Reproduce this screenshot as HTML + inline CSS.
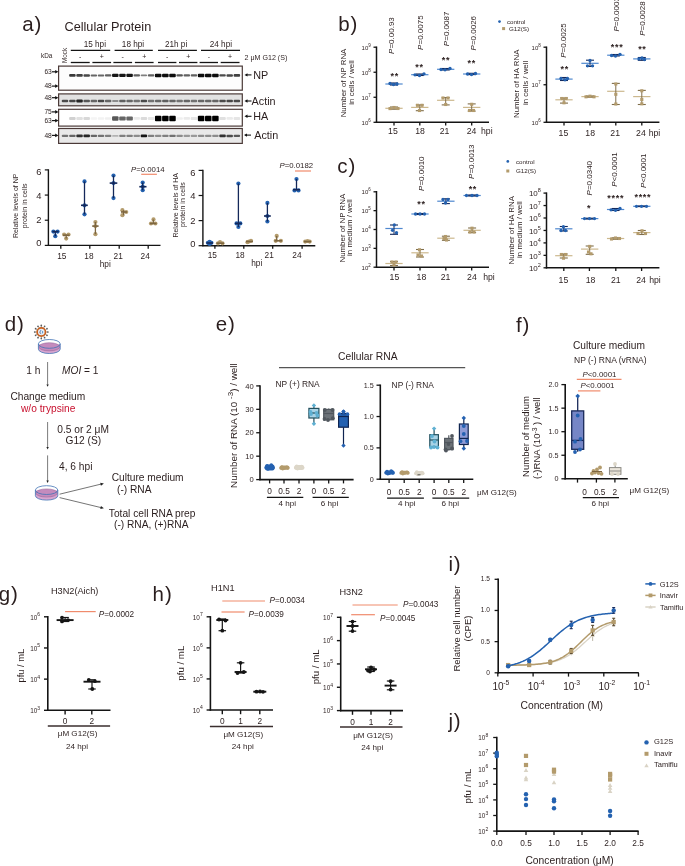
<!DOCTYPE html>
<html><head><meta charset="utf-8"><style>
html,body{margin:0;padding:0;background:#fff;}
svg{display:block;font-family:"Liberation Sans", sans-serif;will-change:transform;}
</style></head><body>
<svg width="685" height="866" viewBox="0 0 685 866" fill="#2a1e1e">
<text x="22.3" y="31.2" font-size="20.5" letter-spacing="0.9">a)</text>
<text x="64.5" y="31" font-size="12.7">Cellular Protein</text>
<text x="41" y="57.86" font-size="6.4">kDa</text>
<text transform="translate(65.2 55.5) rotate(-90)" x="0" y="2.27" font-size="6.3" text-anchor="middle">Mock</text>
<line x1="70.8" y1="50.4" x2="110.2" y2="50.4" stroke="#141414" stroke-width="1.3"/>
<text x="94.8" y="46.75" font-size="8.2" text-anchor="middle">15 hpi</text>
<line x1="114.6" y1="50.4" x2="152.8" y2="50.4" stroke="#141414" stroke-width="1.3"/>
<text x="133" y="46.75" font-size="8.2" text-anchor="middle">18 hpi</text>
<line x1="158" y1="50.4" x2="196.9" y2="50.4" stroke="#141414" stroke-width="1.3"/>
<text x="176.1" y="46.75" font-size="8.2" text-anchor="middle">21h pi</text>
<line x1="201" y1="50.4" x2="240" y2="50.4" stroke="#141414" stroke-width="1.3"/>
<text x="220.9" y="46.75" font-size="8.2" text-anchor="middle">24 hpi</text>
<line x1="70.8" y1="62.5" x2="89.7" y2="62.5" stroke="#141414" stroke-width="1.3"/>
<text x="80.25" y="59.42" font-size="7" text-anchor="middle">-</text>
<line x1="92.4" y1="62.5" x2="111.1" y2="62.5" stroke="#141414" stroke-width="1.3"/>
<text x="101.75" y="59.42" font-size="7" text-anchor="middle">+</text>
<line x1="113.4" y1="62.5" x2="132.1" y2="62.5" stroke="#141414" stroke-width="1.3"/>
<text x="122.75" y="59.42" font-size="7" text-anchor="middle">-</text>
<line x1="134.9" y1="62.5" x2="153.6" y2="62.5" stroke="#141414" stroke-width="1.3"/>
<text x="144.25" y="59.42" font-size="7" text-anchor="middle">+</text>
<line x1="158" y1="62.5" x2="176.4" y2="62.5" stroke="#141414" stroke-width="1.3"/>
<text x="167.2" y="59.42" font-size="7" text-anchor="middle">-</text>
<line x1="179" y1="62.5" x2="197.4" y2="62.5" stroke="#141414" stroke-width="1.3"/>
<text x="188.2" y="59.42" font-size="7" text-anchor="middle">+</text>
<line x1="199.6" y1="62.5" x2="218" y2="62.5" stroke="#141414" stroke-width="1.3"/>
<text x="208.8" y="59.42" font-size="7" text-anchor="middle">-</text>
<line x1="220.7" y1="62.5" x2="239.5" y2="62.5" stroke="#141414" stroke-width="1.3"/>
<text x="230.1" y="59.42" font-size="7" text-anchor="middle">+</text>
<text x="244.6" y="59.66" font-size="7.1">2 μM G12 (S)</text>
<defs><filter id="bl" x="-20%" y="-50%" width="140%" height="200%"><feGaussianBlur stdDeviation="0.6 0.5"/></filter><filter id="bl2" x="-20%" y="-80%" width="140%" height="260%"><feGaussianBlur stdDeviation="0.5 0.6"/></filter></defs>
<rect x="58.6" y="66.1" width="183.7" height="24.1" fill="#fdfdfd"/>
<g filter="url(#bl)">
<rect x="69.15" y="74.03" width="6.5" height="2.75" rx="1" fill="rgb(56,56,56)"/>
<rect x="76.3" y="74.11" width="6.5" height="2.59" rx="1" fill="rgb(66,66,66)"/>
<rect x="83.45" y="74.15" width="6.5" height="2.51" rx="1" fill="rgb(71,71,71)"/>
<rect x="90.6" y="74.39" width="6.5" height="2.02" rx="1" fill="rgb(102,102,102)"/>
<rect x="97.75" y="74.39" width="6.5" height="2.02" rx="1" fill="rgb(102,102,102)"/>
<rect x="104.9" y="74.35" width="6.5" height="2.1" rx="1" fill="rgb(96,96,96)"/>
<rect x="112.05" y="73.74" width="6.5" height="3.31" rx="1" fill="rgb(20,20,20)"/>
<rect x="119.2" y="73.78" width="6.5" height="3.23" rx="1" fill="rgb(25,25,25)"/>
<rect x="126.35" y="73.78" width="6.5" height="3.23" rx="1" fill="rgb(25,25,25)"/>
<rect x="133.5" y="74.35" width="6.5" height="2.1" rx="1" fill="rgb(96,96,96)"/>
<rect x="140.65" y="74.59" width="6.5" height="1.61" rx="1" fill="rgb(127,127,127)"/>
<rect x="147.8" y="74.35" width="6.5" height="2.1" rx="1" fill="rgb(96,96,96)"/>
<rect x="154.95" y="73.64" width="6.5" height="3.52" rx="1" fill="rgb(7,7,7)"/>
<rect x="162.1" y="73.64" width="6.5" height="3.52" rx="1" fill="rgb(7,7,7)"/>
<rect x="169.25" y="73.64" width="6.5" height="3.52" rx="1" fill="rgb(7,7,7)"/>
<rect x="176.4" y="74.27" width="6.5" height="2.26" rx="1" fill="rgb(86,86,86)"/>
<rect x="183.55" y="74.35" width="6.5" height="2.1" rx="1" fill="rgb(96,96,96)"/>
<rect x="190.7" y="74.35" width="6.5" height="2.1" rx="1" fill="rgb(96,96,96)"/>
<rect x="197.85" y="73.64" width="6.5" height="3.52" rx="1" fill="rgb(7,7,7)"/>
<rect x="205" y="73.64" width="6.5" height="3.52" rx="1" fill="rgb(7,7,7)"/>
<rect x="212.15" y="73.64" width="6.5" height="3.52" rx="1" fill="rgb(7,7,7)"/>
<rect x="219.3" y="74.19" width="6.5" height="2.42" rx="1" fill="rgb(76,76,76)"/>
<rect x="226.45" y="74.15" width="6.5" height="2.51" rx="1" fill="rgb(71,71,71)"/>
<rect x="233.6" y="74.09" width="6.5" height="2.63" rx="1" fill="rgb(63,63,63)"/>
</g>
<rect x="58.6" y="66.1" width="183.7" height="24.1" fill="none" stroke="#4b3a38" stroke-width="1.2"/>
<rect x="58.6" y="93.9" width="183.7" height="11.9" fill="#e2e2e2"/>
<g filter="url(#bl)">
<rect x="61.75" y="99.74" width="6.5" height="2.52" rx="1" fill="rgb(76,76,76)"/>
<rect x="69.15" y="99.72" width="6.5" height="2.55" rx="1" fill="rgb(71,71,71)"/>
<rect x="76.3" y="99.62" width="6.5" height="2.76" rx="1" fill="rgb(38,38,38)"/>
<rect x="83.45" y="99.78" width="6.5" height="2.44" rx="1" fill="rgb(89,89,89)"/>
<rect x="90.6" y="99.82" width="6.5" height="2.37" rx="1" fill="rgb(102,102,102)"/>
<rect x="97.75" y="99.72" width="6.5" height="2.55" rx="1" fill="rgb(71,71,71)"/>
<rect x="104.9" y="99.82" width="6.5" height="2.37" rx="1" fill="rgb(102,102,102)"/>
<rect x="112.05" y="99.93" width="6.5" height="2.13" rx="1" fill="rgb(140,140,140)"/>
<rect x="119.2" y="99.8" width="6.5" height="2.4" rx="1" fill="rgb(96,96,96)"/>
<rect x="126.35" y="99.82" width="6.5" height="2.37" rx="1" fill="rgb(102,102,102)"/>
<rect x="133.5" y="99.86" width="6.5" height="2.29" rx="1" fill="rgb(114,114,114)"/>
<rect x="140.65" y="99.74" width="6.5" height="2.52" rx="1" fill="rgb(76,76,76)"/>
<rect x="147.8" y="99.86" width="6.5" height="2.29" rx="1" fill="rgb(114,114,114)"/>
<rect x="154.95" y="99.82" width="6.5" height="2.37" rx="1" fill="rgb(102,102,102)"/>
<rect x="162.1" y="99.8" width="6.5" height="2.4" rx="1" fill="rgb(96,96,96)"/>
<rect x="169.25" y="99.82" width="6.5" height="2.37" rx="1" fill="rgb(102,102,102)"/>
<rect x="176.4" y="99.86" width="6.5" height="2.29" rx="1" fill="rgb(114,114,114)"/>
<rect x="183.55" y="99.82" width="6.5" height="2.37" rx="1" fill="rgb(102,102,102)"/>
<rect x="190.7" y="99.86" width="6.5" height="2.29" rx="1" fill="rgb(114,114,114)"/>
<rect x="197.85" y="99.82" width="6.5" height="2.37" rx="1" fill="rgb(102,102,102)"/>
<rect x="205" y="99.82" width="6.5" height="2.37" rx="1" fill="rgb(102,102,102)"/>
<rect x="212.15" y="99.82" width="6.5" height="2.37" rx="1" fill="rgb(102,102,102)"/>
<rect x="219.3" y="99.74" width="6.5" height="2.52" rx="1" fill="rgb(76,76,76)"/>
<rect x="226.45" y="99.72" width="6.5" height="2.55" rx="1" fill="rgb(71,71,71)"/>
<rect x="233.6" y="99.74" width="6.5" height="2.52" rx="1" fill="rgb(76,76,76)"/>
</g>
<rect x="58.6" y="93.9" width="183.7" height="11.9" fill="none" stroke="#4b3a38" stroke-width="1.2"/>
<rect x="58.6" y="109.3" width="183.7" height="16.8" fill="#ffffff"/>
<g filter="url(#bl2)">
<rect x="69.15" y="116.99" width="6.5" height="3.03" rx="1" fill="rgb(209,209,209)"/>
<rect x="76.3" y="117.07" width="6.5" height="2.86" rx="1" fill="rgb(224,224,224)"/>
<rect x="83.45" y="117.03" width="6.5" height="2.94" rx="1" fill="rgb(216,216,216)"/>
<rect x="90.6" y="117.18" width="6.5" height="2.64" rx="1" fill="rgb(244,244,244)"/>
<rect x="97.75" y="117.17" width="6.5" height="2.67" rx="1" fill="rgb(242,242,242)"/>
<rect x="104.9" y="117.15" width="6.5" height="2.7" rx="1" fill="rgb(239,239,239)"/>
<rect x="112.05" y="116.34" width="6.5" height="4.32" rx="1" fill="rgb(89,89,89)"/>
<rect x="119.2" y="116.41" width="6.5" height="4.19" rx="1" fill="rgb(102,102,102)"/>
<rect x="126.35" y="116.41" width="6.5" height="4.19" rx="1" fill="rgb(102,102,102)"/>
<rect x="133.5" y="117.12" width="6.5" height="2.75" rx="1" fill="rgb(234,234,234)"/>
<rect x="140.65" y="117.04" width="6.5" height="2.92" rx="1" fill="rgb(219,219,219)"/>
<rect x="147.8" y="117.1" width="6.5" height="2.81" rx="1" fill="rgb(229,229,229)"/>
<rect x="154.95" y="115.86" width="6.5" height="5.29" rx="1" fill="rgb(0,0,0)"/>
<rect x="162.1" y="115.86" width="6.5" height="5.29" rx="1" fill="rgb(0,0,0)"/>
<rect x="169.25" y="115.86" width="6.5" height="5.29" rx="1" fill="rgb(0,0,0)"/>
<rect x="176.4" y="117.15" width="6.5" height="2.7" rx="1" fill="rgb(239,239,239)"/>
<rect x="183.55" y="117.12" width="6.5" height="2.75" rx="1" fill="rgb(234,234,234)"/>
<rect x="190.7" y="117.1" width="6.5" height="2.81" rx="1" fill="rgb(229,229,229)"/>
<rect x="197.85" y="115.86" width="6.5" height="5.29" rx="1" fill="rgb(0,0,0)"/>
<rect x="205" y="115.86" width="6.5" height="5.29" rx="1" fill="rgb(0,0,0)"/>
<rect x="212.15" y="115.86" width="6.5" height="5.29" rx="1" fill="rgb(0,0,0)"/>
<rect x="219.3" y="117.07" width="6.5" height="2.86" rx="1" fill="rgb(224,224,224)"/>
<rect x="226.45" y="117.12" width="6.5" height="2.75" rx="1" fill="rgb(234,234,234)"/>
<rect x="233.6" y="117.1" width="6.5" height="2.81" rx="1" fill="rgb(229,229,229)"/>
</g>
<rect x="58.6" y="109.3" width="183.7" height="16.8" fill="none" stroke="#4b3a38" stroke-width="1.2"/>
<rect x="58.6" y="128.5" width="183.7" height="14.9" fill="#e9e9e9"/>
<g filter="url(#bl)">
<rect x="61.75" y="134.76" width="6.5" height="2.29" rx="1" fill="rgb(114,114,114)"/>
<rect x="69.15" y="134.72" width="6.5" height="2.37" rx="1" fill="rgb(102,102,102)"/>
<rect x="76.3" y="134.56" width="6.5" height="2.68" rx="1" fill="rgb(50,50,50)"/>
<rect x="83.45" y="134.52" width="6.5" height="2.76" rx="1" fill="rgb(38,38,38)"/>
<rect x="90.6" y="134.72" width="6.5" height="2.37" rx="1" fill="rgb(102,102,102)"/>
<rect x="97.75" y="134.76" width="6.5" height="2.29" rx="1" fill="rgb(114,114,114)"/>
<rect x="104.9" y="134.8" width="6.5" height="2.21" rx="1" fill="rgb(127,127,127)"/>
<rect x="112.05" y="134.95" width="6.5" height="1.9" rx="1" fill="rgb(178,178,178)"/>
<rect x="119.2" y="134.8" width="6.5" height="2.21" rx="1" fill="rgb(127,127,127)"/>
<rect x="126.35" y="134.8" width="6.5" height="2.21" rx="1" fill="rgb(127,127,127)"/>
<rect x="133.5" y="134.83" width="6.5" height="2.13" rx="1" fill="rgb(140,140,140)"/>
<rect x="140.65" y="134.48" width="6.5" height="2.83" rx="1" fill="rgb(25,25,25)"/>
<rect x="147.8" y="134.8" width="6.5" height="2.21" rx="1" fill="rgb(127,127,127)"/>
<rect x="154.95" y="134.83" width="6.5" height="2.13" rx="1" fill="rgb(140,140,140)"/>
<rect x="162.1" y="134.8" width="6.5" height="2.21" rx="1" fill="rgb(127,127,127)"/>
<rect x="169.25" y="134.76" width="6.5" height="2.29" rx="1" fill="rgb(114,114,114)"/>
<rect x="176.4" y="134.83" width="6.5" height="2.13" rx="1" fill="rgb(140,140,140)"/>
<rect x="183.55" y="134.87" width="6.5" height="2.05" rx="1" fill="rgb(153,153,153)"/>
<rect x="190.7" y="134.87" width="6.5" height="2.05" rx="1" fill="rgb(153,153,153)"/>
<rect x="197.85" y="134.83" width="6.5" height="2.13" rx="1" fill="rgb(140,140,140)"/>
<rect x="205" y="134.83" width="6.5" height="2.13" rx="1" fill="rgb(140,140,140)"/>
<rect x="212.15" y="134.83" width="6.5" height="2.13" rx="1" fill="rgb(140,140,140)"/>
<rect x="219.3" y="134.56" width="6.5" height="2.68" rx="1" fill="rgb(50,50,50)"/>
<rect x="226.45" y="134.64" width="6.5" height="2.52" rx="1" fill="rgb(76,76,76)"/>
<rect x="233.6" y="134.68" width="6.5" height="2.44" rx="1" fill="rgb(89,89,89)"/>
</g>
<rect x="58.6" y="128.5" width="183.7" height="14.9" fill="none" stroke="#4b3a38" stroke-width="1.2"/>
<line x1="51.8" y1="71.8" x2="56.5" y2="71.8" stroke="#141414" stroke-width="1.2"/>
<path d="M58.4 71.8 L55.2 70 L55.2 73.6 Z" stroke="none" stroke-width="1" fill="#141414"/>
<text x="51.8" y="74.18" font-size="6.6" text-anchor="end">63</text>
<line x1="51.8" y1="86.1" x2="56.5" y2="86.1" stroke="#141414" stroke-width="1.2"/>
<path d="M58.4 86.1 L55.2 84.3 L55.2 87.9 Z" stroke="none" stroke-width="1" fill="#141414"/>
<text x="51.8" y="88.48" font-size="6.6" text-anchor="end">48</text>
<line x1="51.8" y1="97.7" x2="56.5" y2="97.7" stroke="#141414" stroke-width="1.2"/>
<path d="M58.4 97.7 L55.2 95.9 L55.2 99.5 Z" stroke="none" stroke-width="1" fill="#141414"/>
<text x="51.8" y="100.08" font-size="6.6" text-anchor="end">48</text>
<line x1="51.8" y1="111.9" x2="56.5" y2="111.9" stroke="#141414" stroke-width="1.2"/>
<path d="M58.4 111.9 L55.2 110.1 L55.2 113.7 Z" stroke="none" stroke-width="1" fill="#141414"/>
<text x="51.8" y="114.28" font-size="6.6" text-anchor="end">75</text>
<line x1="51.8" y1="120.6" x2="56.5" y2="120.6" stroke="#141414" stroke-width="1.2"/>
<path d="M58.4 120.6 L55.2 118.8 L55.2 122.4 Z" stroke="none" stroke-width="1" fill="#141414"/>
<text x="51.8" y="122.98" font-size="6.6" text-anchor="end">63</text>
<line x1="51.8" y1="135.4" x2="56.5" y2="135.4" stroke="#141414" stroke-width="1.2"/>
<path d="M58.4 135.4 L55.2 133.6 L55.2 137.2 Z" stroke="none" stroke-width="1" fill="#141414"/>
<text x="51.8" y="137.78" font-size="6.6" text-anchor="end">48</text>
<line x1="246" y1="74.9" x2="251.5" y2="74.9" stroke="#141414" stroke-width="1.1"/>
<path d="M244.5 74.9 L247.5 73.2 L247.5 76.6 Z" stroke="none" stroke-width="1" fill="#141414"/>
<text x="253.2" y="78.79" font-size="10.8">NP</text>
<line x1="246" y1="101" x2="251.5" y2="101" stroke="#141414" stroke-width="1.1"/>
<path d="M244.5 101 L247.5 99.3 L247.5 102.7 Z" stroke="none" stroke-width="1" fill="#141414"/>
<text x="251.6" y="104.89" font-size="10.8">Actin</text>
<line x1="246" y1="116.3" x2="251.5" y2="116.3" stroke="#141414" stroke-width="1.1"/>
<path d="M244.5 116.3 L247.5 114.6 L247.5 118 Z" stroke="none" stroke-width="1" fill="#141414"/>
<text x="253.2" y="120.19" font-size="10.8">HA</text>
<line x1="245.5" y1="135.1" x2="251" y2="135.1" stroke="#141414" stroke-width="1.1"/>
<path d="M244 135.1 L247 133.4 L247 136.8 Z" stroke="none" stroke-width="1" fill="#141414"/>
<text x="254.2" y="138.99" font-size="10.8">Actin</text>
<line x1="48.4" y1="169.3" x2="48.4" y2="246" stroke="#141414" stroke-width="1.4"/>
<line x1="47.8" y1="245.4" x2="160.5" y2="245.4" stroke="#141414" stroke-width="1.4"/>
<line x1="44.8" y1="169.9" x2="48.4" y2="169.9" stroke="#141414" stroke-width="1.2"/>
<text x="41.4" y="174.68" font-size="9.4" text-anchor="end">6</text>
<line x1="44.8" y1="195.07" x2="48.4" y2="195.07" stroke="#141414" stroke-width="1.2"/>
<text x="41.4" y="198.78" font-size="9.4" text-anchor="end">4</text>
<line x1="44.8" y1="220.23" x2="48.4" y2="220.23" stroke="#141414" stroke-width="1.2"/>
<text x="41.4" y="223.28" font-size="9.4" text-anchor="end">2</text>
<line x1="44.8" y1="245.4" x2="48.4" y2="245.4" stroke="#141414" stroke-width="1.2"/>
<text x="41.4" y="246.38" font-size="9.4" text-anchor="end">0</text>
<line x1="60.8" y1="245.4" x2="60.8" y2="248.8" stroke="#141414" stroke-width="1.3"/>
<line x1="89.8" y1="245.4" x2="89.8" y2="248.8" stroke="#141414" stroke-width="1.3"/>
<line x1="119.2" y1="245.4" x2="119.2" y2="248.8" stroke="#141414" stroke-width="1.3"/>
<line x1="148.2" y1="245.4" x2="148.2" y2="248.8" stroke="#141414" stroke-width="1.3"/>
<text x="61.8" y="258.89" font-size="8.3" text-anchor="middle">15</text>
<text x="88.9" y="258.89" font-size="8.3" text-anchor="middle">18</text>
<text x="118.2" y="258.89" font-size="8.3" text-anchor="middle">21</text>
<text x="145.2" y="258.89" font-size="8.3" text-anchor="middle">24</text>
<text x="105.2" y="266.96" font-size="8.3" text-anchor="middle">hpi</text>
<text transform="translate(15.6 205.8) rotate(-90)" x="0" y="2.52" font-size="7" text-anchor="middle">Relative levels of NP</text>
<text transform="translate(24.1 205.8) rotate(-90)" x="0" y="2.52" font-size="7" text-anchor="middle">protein in cells</text>
<text x="147.8" y="171.91" font-size="7.8" text-anchor="middle"><tspan font-style="italic">P</tspan>=0.0014</text>
<line x1="141.2" y1="174.3" x2="156.9" y2="174.3" stroke="#f08b6c" stroke-width="1.2"/>
<circle cx="53.4" cy="231.6" r="2.1" fill="#2462b0"/>
<circle cx="57.6" cy="231.6" r="2.1" fill="#2462b0"/>
<circle cx="55.3" cy="236.2" r="2.1" fill="#2462b0"/>
<line x1="55.3" y1="231.6" x2="55.3" y2="236.2" stroke="#14285a" stroke-width="1.3"/>
<line x1="52.3" y1="231.6" x2="58.6" y2="231.6" stroke="#14285a" stroke-width="1.6"/>
<circle cx="64.1" cy="234.5" r="2.1" fill="#b39b6c"/>
<circle cx="68.5" cy="234.5" r="2.1" fill="#b39b6c"/>
<circle cx="66.2" cy="238.6" r="2.1" fill="#b39b6c"/>
<line x1="66.2" y1="234.5" x2="66.2" y2="238.6" stroke="#7d6640" stroke-width="1.3"/>
<line x1="63" y1="235.2" x2="69.6" y2="235.2" stroke="#7d6640" stroke-width="1.6"/>
<circle cx="84.5" cy="181.4" r="2.1" fill="#2462b0"/>
<circle cx="84.5" cy="214.3" r="2.1" fill="#2462b0"/>
<circle cx="84.5" cy="205.3" r="2.1" fill="#2462b0"/>
<line x1="84.5" y1="181.4" x2="84.5" y2="214.3" stroke="#14285a" stroke-width="1.3"/>
<line x1="81" y1="205.3" x2="87.8" y2="205.3" stroke="#14285a" stroke-width="1.6"/>
<circle cx="95.4" cy="222" r="2.1" fill="#b39b6c"/>
<circle cx="95.4" cy="234.2" r="2.1" fill="#b39b6c"/>
<circle cx="95.4" cy="226.1" r="2.1" fill="#b39b6c"/>
<line x1="95.4" y1="222" x2="95.4" y2="234.2" stroke="#7d6640" stroke-width="1.3"/>
<line x1="92.2" y1="226.1" x2="98.6" y2="226.1" stroke="#7d6640" stroke-width="1.6"/>
<circle cx="113.5" cy="175.5" r="2.1" fill="#2462b0"/>
<circle cx="113.5" cy="198.1" r="2.1" fill="#2462b0"/>
<circle cx="113.5" cy="183.1" r="2.1" fill="#2462b0"/>
<line x1="113.5" y1="175.5" x2="113.5" y2="198.1" stroke="#14285a" stroke-width="1.3"/>
<line x1="109.7" y1="183.1" x2="117.3" y2="183.1" stroke="#14285a" stroke-width="1.6"/>
<circle cx="122.4" cy="210.2" r="2.1" fill="#b39b6c"/>
<circle cx="126.2" cy="212" r="2.1" fill="#b39b6c"/>
<circle cx="122.4" cy="215.2" r="2.1" fill="#b39b6c"/>
<line x1="123.6" y1="210.2" x2="123.6" y2="215.2" stroke="#7d6640" stroke-width="1.3"/>
<line x1="121" y1="212" x2="127" y2="212" stroke="#7d6640" stroke-width="1.6"/>
<circle cx="142.7" cy="182.6" r="2.1" fill="#2462b0"/>
<circle cx="142.7" cy="190.2" r="2.1" fill="#2462b0"/>
<circle cx="142.7" cy="186.7" r="2.1" fill="#2462b0"/>
<line x1="142.7" y1="182.6" x2="142.7" y2="190.2" stroke="#14285a" stroke-width="1.3"/>
<line x1="139.3" y1="186.7" x2="146.5" y2="186.7" stroke="#14285a" stroke-width="1.6"/>
<circle cx="153.5" cy="219.4" r="2.1" fill="#b39b6c"/>
<circle cx="151" cy="223.5" r="2.1" fill="#b39b6c"/>
<circle cx="155.4" cy="223.5" r="2.1" fill="#b39b6c"/>
<line x1="153.3" y1="219.4" x2="153.3" y2="223.5" stroke="#7d6640" stroke-width="1.3"/>
<line x1="150" y1="223.5" x2="156.5" y2="223.5" stroke="#7d6640" stroke-width="1.6"/>
<line x1="202.9" y1="169.8" x2="202.9" y2="246.3" stroke="#141414" stroke-width="1.4"/>
<line x1="202.3" y1="245.7" x2="315.3" y2="245.7" stroke="#141414" stroke-width="1.4"/>
<line x1="198.6" y1="170.4" x2="202.9" y2="170.4" stroke="#141414" stroke-width="1.2"/>
<text x="195.5" y="176.18" font-size="9.4" text-anchor="end">6</text>
<line x1="198.6" y1="195.5" x2="202.9" y2="195.5" stroke="#141414" stroke-width="1.2"/>
<text x="195.5" y="199.38" font-size="9.4" text-anchor="end">4</text>
<line x1="198.6" y1="220.6" x2="202.9" y2="220.6" stroke="#141414" stroke-width="1.2"/>
<text x="195.5" y="223.78" font-size="9.4" text-anchor="end">2</text>
<line x1="198.6" y1="245.7" x2="202.9" y2="245.7" stroke="#141414" stroke-width="1.2"/>
<text x="195.5" y="246.88" font-size="9.4" text-anchor="end">0</text>
<line x1="214.9" y1="245.7" x2="214.9" y2="248.8" stroke="#141414" stroke-width="1.3"/>
<line x1="243.8" y1="245.7" x2="243.8" y2="248.8" stroke="#141414" stroke-width="1.3"/>
<line x1="272.7" y1="245.7" x2="272.7" y2="248.8" stroke="#141414" stroke-width="1.3"/>
<line x1="302.1" y1="245.7" x2="302.1" y2="248.8" stroke="#141414" stroke-width="1.3"/>
<text x="212.3" y="257.79" font-size="8.3" text-anchor="middle">15</text>
<text x="240" y="257.79" font-size="8.3" text-anchor="middle">18</text>
<text x="269.2" y="257.79" font-size="8.3" text-anchor="middle">21</text>
<text x="296.9" y="257.79" font-size="8.3" text-anchor="middle">24</text>
<text x="256.8" y="265.76" font-size="8.3" text-anchor="middle">hpi</text>
<text transform="translate(175 205.3) rotate(-90)" x="0" y="2.52" font-size="7" text-anchor="middle">Relative levels of HA</text>
<text transform="translate(182.9 204.6) rotate(-90)" x="0" y="2.52" font-size="7" text-anchor="middle">protein in cells</text>
<text x="296.3" y="167.71" font-size="7.8" text-anchor="middle"><tspan font-style="italic">P</tspan>=0.0182</text>
<line x1="295" y1="171" x2="311" y2="171" stroke="#f08b6c" stroke-width="1.2"/>
<circle cx="207.9" cy="242.8" r="2.1" fill="#2462b0"/>
<circle cx="209.6" cy="241.8" r="2.1" fill="#2462b0"/>
<circle cx="211.4" cy="242.8" r="2.1" fill="#2462b0"/>
<circle cx="209.6" cy="244" r="2.1" fill="#2462b0"/>
<line x1="206.5" y1="243" x2="213" y2="243" stroke="#14285a" stroke-width="1.6"/>
<circle cx="218" cy="243.3" r="2.1" fill="#b39b6c"/>
<circle cx="222.5" cy="243.3" r="2.1" fill="#b39b6c"/>
<circle cx="220" cy="242" r="2.1" fill="#b39b6c"/>
<line x1="216.5" y1="243.2" x2="224" y2="243.2" stroke="#7d6640" stroke-width="1.6"/>
<circle cx="238.4" cy="183.5" r="2.1" fill="#2462b0"/>
<circle cx="238.4" cy="227" r="2.1" fill="#2462b0"/>
<circle cx="236.5" cy="223.4" r="2.1" fill="#2462b0"/>
<circle cx="240.3" cy="223.4" r="2.1" fill="#2462b0"/>
<line x1="238.4" y1="183.5" x2="238.4" y2="227" stroke="#14285a" stroke-width="1.3"/>
<line x1="235" y1="223.4" x2="241.8" y2="223.4" stroke="#14285a" stroke-width="1.6"/>
<circle cx="247.5" cy="242.2" r="2.1" fill="#b39b6c"/>
<circle cx="251" cy="240.8" r="2.1" fill="#b39b6c"/>
<circle cx="249" cy="241.5" r="2.1" fill="#b39b6c"/>
<line x1="246" y1="241.5" x2="253" y2="241.5" stroke="#7d6640" stroke-width="1.6"/>
<circle cx="267.4" cy="202.9" r="2.1" fill="#2462b0"/>
<circle cx="267.4" cy="221.5" r="2.1" fill="#2462b0"/>
<circle cx="267.4" cy="216" r="2.1" fill="#2462b0"/>
<line x1="267.4" y1="202.9" x2="267.4" y2="221.5" stroke="#14285a" stroke-width="1.3"/>
<line x1="264" y1="216" x2="270.8" y2="216" stroke="#14285a" stroke-width="1.6"/>
<circle cx="275.7" cy="240.8" r="2.1" fill="#b39b6c"/>
<circle cx="280.9" cy="240.8" r="2.1" fill="#b39b6c"/>
<circle cx="276.7" cy="235.9" r="2.1" fill="#b39b6c"/>
<line x1="276.7" y1="235.9" x2="276.7" y2="240.8" stroke="#7d6640" stroke-width="1.3"/>
<line x1="274.5" y1="240.8" x2="282" y2="240.8" stroke="#7d6640" stroke-width="1.6"/>
<circle cx="296.5" cy="179" r="2.1" fill="#2462b0"/>
<circle cx="294.5" cy="190.4" r="2.1" fill="#2462b0"/>
<circle cx="298.5" cy="190.4" r="2.1" fill="#2462b0"/>
<line x1="296.5" y1="179" x2="296.5" y2="190.4" stroke="#14285a" stroke-width="1.3"/>
<line x1="293" y1="189.7" x2="300" y2="189.7" stroke="#14285a" stroke-width="1.6"/>
<circle cx="305.2" cy="241.6" r="2.1" fill="#b39b6c"/>
<circle cx="309.7" cy="241.6" r="2.1" fill="#b39b6c"/>
<circle cx="307.5" cy="241" r="2.1" fill="#b39b6c"/>
<line x1="304" y1="241.6" x2="311" y2="241.6" stroke="#7d6640" stroke-width="1.6"/>
<text x="338.3" y="31.3" font-size="20.5" letter-spacing="0.9">b)</text>
<text x="337.3" y="172.8" font-size="20.5" letter-spacing="0.9">c)</text>
<line x1="376.5" y1="46.5" x2="376.5" y2="123" stroke="#141414" stroke-width="1.5"/>
<line x1="375.8" y1="122.3" x2="489" y2="122.3" stroke="#141414" stroke-width="1.5"/>
<line x1="373.5" y1="47.21" x2="376.5" y2="47.21" stroke="#141414" stroke-width="1.3"/>
<text x="368.3" y="49.77" font-size="6" text-anchor="end">10</text>
<text x="368.3" y="46.77" font-size="4.5">9</text>
<line x1="373.5" y1="72.24" x2="376.5" y2="72.24" stroke="#141414" stroke-width="1.3"/>
<text x="368.3" y="74.8" font-size="6" text-anchor="end">10</text>
<text x="368.3" y="71.8" font-size="4.5">8</text>
<line x1="373.5" y1="97.27" x2="376.5" y2="97.27" stroke="#141414" stroke-width="1.3"/>
<text x="368.3" y="99.83" font-size="6" text-anchor="end">10</text>
<text x="368.3" y="96.83" font-size="4.5">7</text>
<line x1="373.5" y1="122.3" x2="376.5" y2="122.3" stroke="#141414" stroke-width="1.3"/>
<text x="368.3" y="124.86" font-size="6" text-anchor="end">10</text>
<text x="368.3" y="121.86" font-size="4.5">6</text>
<line x1="394" y1="122.3" x2="394" y2="125.5" stroke="#141414" stroke-width="1.3"/>
<line x1="419.8" y1="122.3" x2="419.8" y2="125.5" stroke="#141414" stroke-width="1.3"/>
<line x1="445.7" y1="122.3" x2="445.7" y2="125.5" stroke="#141414" stroke-width="1.3"/>
<line x1="471.7" y1="122.3" x2="471.7" y2="125.5" stroke="#141414" stroke-width="1.3"/>
<text transform="translate(343.5 83) rotate(-90)" x="0" y="2.84" font-size="7.9" text-anchor="middle">Number of NP RNA</text>
<text transform="translate(350.8 82.5) rotate(-90)" x="0" y="2.84" font-size="7.9" text-anchor="middle">in cells / well</text>
<text x="392.9" y="134.03" font-size="8.7" text-anchor="middle">15</text>
<text x="420" y="134.03" font-size="8.7" text-anchor="middle">18</text>
<text x="444.5" y="134.03" font-size="8.7" text-anchor="middle">21</text>
<text x="471.5" y="134.03" font-size="8.7" text-anchor="middle">24</text>
<text x="486.8" y="134.03" font-size="8.7" text-anchor="middle">hpi</text>
<text transform="translate(391.1 35.55) rotate(-90)" x="0" y="2.88" font-size="8" text-anchor="middle"><tspan font-style="italic">P</tspan>=0.00.93</text>
<text transform="translate(420 32.65) rotate(-90)" x="0" y="2.88" font-size="8" text-anchor="middle"><tspan font-style="italic">P</tspan>=0.0075</text>
<text transform="translate(445.9 28.9) rotate(-90)" x="0" y="2.88" font-size="8" text-anchor="middle"><tspan font-style="italic">P</tspan>=0.0087</text>
<text transform="translate(473.4 33.2) rotate(-90)" x="0" y="2.88" font-size="8" text-anchor="middle"><tspan font-style="italic">P</tspan>=0.0026</text>
<text x="394.65" y="78.58" font-size="9" font-weight="bold" letter-spacing="0.7" text-anchor="middle">**</text>
<text x="419.55" y="69.78" font-size="9" font-weight="bold" letter-spacing="0.7" text-anchor="middle">**</text>
<text x="446.05" y="62.58" font-size="9" font-weight="bold" letter-spacing="0.7" text-anchor="middle">**</text>
<text x="471.75" y="66.48" font-size="9" font-weight="bold" letter-spacing="0.7" text-anchor="middle">**</text>
<line x1="385.35" y1="84" x2="402.65" y2="84" stroke="#4f88cf" stroke-width="1.2"/>
<line x1="394" y1="83" x2="394" y2="85" stroke="#14285a" stroke-width="1"/>
<line x1="390" y1="83" x2="398" y2="83" stroke="#14285a" stroke-width="1.1"/>
<line x1="390" y1="85" x2="398" y2="85" stroke="#14285a" stroke-width="1.1"/>
<circle cx="390" cy="83.5" r="1.65" fill="#2462b0"/>
<circle cx="393.5" cy="84.5" r="1.65" fill="#2462b0"/>
<circle cx="397" cy="84" r="1.65" fill="#2462b0"/>
<line x1="411.15" y1="74.7" x2="428.45" y2="74.7" stroke="#4f88cf" stroke-width="1.2"/>
<line x1="419.8" y1="74" x2="419.8" y2="75.5" stroke="#14285a" stroke-width="1"/>
<line x1="415.8" y1="74" x2="423.8" y2="74" stroke="#14285a" stroke-width="1.1"/>
<line x1="415.8" y1="75.5" x2="423.8" y2="75.5" stroke="#14285a" stroke-width="1.1"/>
<circle cx="415" cy="74.8" r="1.65" fill="#2462b0"/>
<circle cx="419.5" cy="75.5" r="1.65" fill="#2462b0"/>
<circle cx="424" cy="73.8" r="1.65" fill="#2462b0"/>
<line x1="437.05" y1="69.3" x2="454.35" y2="69.3" stroke="#4f88cf" stroke-width="1.2"/>
<line x1="445.7" y1="68.5" x2="445.7" y2="70" stroke="#14285a" stroke-width="1"/>
<line x1="441.7" y1="68.5" x2="449.7" y2="68.5" stroke="#14285a" stroke-width="1.1"/>
<line x1="441.7" y1="70" x2="449.7" y2="70" stroke="#14285a" stroke-width="1.1"/>
<circle cx="441" cy="69.5" r="1.65" fill="#2462b0"/>
<circle cx="445" cy="69.8" r="1.65" fill="#2462b0"/>
<circle cx="450" cy="68.5" r="1.65" fill="#2462b0"/>
<line x1="463.05" y1="74" x2="480.35" y2="74" stroke="#4f88cf" stroke-width="1.2"/>
<line x1="471.7" y1="73.3" x2="471.7" y2="74.6" stroke="#14285a" stroke-width="1"/>
<line x1="467.7" y1="73.3" x2="475.7" y2="73.3" stroke="#14285a" stroke-width="1.1"/>
<line x1="467.7" y1="74.6" x2="475.7" y2="74.6" stroke="#14285a" stroke-width="1.1"/>
<circle cx="467.5" cy="74" r="1.65" fill="#2462b0"/>
<circle cx="471.5" cy="74.6" r="1.65" fill="#2462b0"/>
<circle cx="475.5" cy="73.5" r="1.65" fill="#2462b0"/>
<line x1="385.35" y1="108.3" x2="402.65" y2="108.3" stroke="#ccb88e" stroke-width="1.2"/>
<line x1="394" y1="107" x2="394" y2="109.2" stroke="#7f6d4a" stroke-width="1"/>
<line x1="390" y1="107" x2="398" y2="107" stroke="#7f6d4a" stroke-width="1.1"/>
<line x1="390" y1="109.2" x2="398" y2="109.2" stroke="#7f6d4a" stroke-width="1.1"/>
<rect x="388.45" y="107.05" width="3.1" height="3.1" fill="#b39b6c"/>
<rect x="392.45" y="105.95" width="3.1" height="3.1" fill="#b39b6c"/>
<rect x="396.45" y="106.95" width="3.1" height="3.1" fill="#b39b6c"/>
<line x1="411.15" y1="107.4" x2="428.45" y2="107.4" stroke="#ccb88e" stroke-width="1.2"/>
<line x1="419.8" y1="104.9" x2="419.8" y2="110.7" stroke="#7f6d4a" stroke-width="1"/>
<line x1="415.8" y1="104.9" x2="423.8" y2="104.9" stroke="#7f6d4a" stroke-width="1.1"/>
<line x1="415.8" y1="110.7" x2="423.8" y2="110.7" stroke="#7f6d4a" stroke-width="1.1"/>
<rect x="415.95" y="103.75" width="3.1" height="3.1" fill="#b39b6c"/>
<rect x="420.45" y="103.75" width="3.1" height="3.1" fill="#b39b6c"/>
<rect x="417.95" y="108.95" width="3.1" height="3.1" fill="#b39b6c"/>
<line x1="437.05" y1="100.3" x2="454.35" y2="100.3" stroke="#ccb88e" stroke-width="1.2"/>
<line x1="445.7" y1="97.6" x2="445.7" y2="104.9" stroke="#7f6d4a" stroke-width="1"/>
<line x1="441.7" y1="97.6" x2="449.7" y2="97.6" stroke="#7f6d4a" stroke-width="1.1"/>
<line x1="441.7" y1="104.9" x2="449.7" y2="104.9" stroke="#7f6d4a" stroke-width="1.1"/>
<rect x="441.45" y="96.45" width="3.1" height="3.1" fill="#b39b6c"/>
<rect x="446.45" y="96.45" width="3.1" height="3.1" fill="#b39b6c"/>
<rect x="444.15" y="102.95" width="3.1" height="3.1" fill="#b39b6c"/>
<line x1="463.05" y1="107.4" x2="480.35" y2="107.4" stroke="#ccb88e" stroke-width="1.2"/>
<line x1="471.7" y1="103.9" x2="471.7" y2="111.1" stroke="#7f6d4a" stroke-width="1"/>
<line x1="467.7" y1="103.9" x2="475.7" y2="103.9" stroke="#7f6d4a" stroke-width="1.1"/>
<line x1="467.7" y1="111.1" x2="475.7" y2="111.1" stroke="#7f6d4a" stroke-width="1.1"/>
<rect x="470.15" y="102.75" width="3.1" height="3.1" fill="#b39b6c"/>
<rect x="467.95" y="108.95" width="3.1" height="3.1" fill="#b39b6c"/>
<rect x="471.95" y="108.95" width="3.1" height="3.1" fill="#b39b6c"/>
<circle cx="499.5" cy="21.6" r="1.35" fill="#2462b0"/>
<rect x="502.1" y="27.1" width="3" height="3" fill="#b39b6c"/>
<text x="506.9" y="24.13" font-size="6.2">control</text>
<text x="509" y="30.83" font-size="6.2">G12(S)</text>
<line x1="546.5" y1="46.5" x2="546.5" y2="123" stroke="#141414" stroke-width="1.5"/>
<line x1="545.8" y1="122.3" x2="659.4" y2="122.3" stroke="#141414" stroke-width="1.5"/>
<line x1="543.5" y1="47.2" x2="546.5" y2="47.2" stroke="#141414" stroke-width="1.3"/>
<text x="538.3" y="49.76" font-size="6" text-anchor="end">10</text>
<text x="538.3" y="46.76" font-size="4.5">8</text>
<line x1="543.5" y1="84.75" x2="546.5" y2="84.75" stroke="#141414" stroke-width="1.3"/>
<text x="538.3" y="87.31" font-size="6" text-anchor="end">10</text>
<text x="538.3" y="84.31" font-size="4.5">7</text>
<line x1="543.5" y1="122.3" x2="546.5" y2="122.3" stroke="#141414" stroke-width="1.3"/>
<text x="538.3" y="124.86" font-size="6" text-anchor="end">10</text>
<text x="538.3" y="121.86" font-size="4.5">6</text>
<line x1="564" y1="122.3" x2="564" y2="125.5" stroke="#141414" stroke-width="1.3"/>
<line x1="590" y1="122.3" x2="590" y2="125.5" stroke="#141414" stroke-width="1.3"/>
<line x1="615.8" y1="122.3" x2="615.8" y2="125.5" stroke="#141414" stroke-width="1.3"/>
<line x1="641.8" y1="122.3" x2="641.8" y2="125.5" stroke="#141414" stroke-width="1.3"/>
<text transform="translate(516.1 83.8) rotate(-90)" x="0" y="2.84" font-size="7.9" text-anchor="middle">Number of HA RNA</text>
<text transform="translate(524.9 82.9) rotate(-90)" x="0" y="2.84" font-size="7.9" text-anchor="middle">in cells / well</text>
<text x="563.4" y="135.53" font-size="8.7" text-anchor="middle">15</text>
<text x="590.2" y="135.53" font-size="8.7" text-anchor="middle">18</text>
<text x="615.2" y="135.53" font-size="8.7" text-anchor="middle">21</text>
<text x="640.9" y="135.53" font-size="8.7" text-anchor="middle">24</text>
<text x="654.5" y="135.53" font-size="8.7" text-anchor="middle">hpi</text>
<text transform="translate(563.4 40.6) rotate(-90)" x="0" y="2.88" font-size="8" text-anchor="middle"><tspan font-style="italic">P</tspan>=0.0025</text>
<text transform="translate(616 14.35) rotate(-90)" x="0" y="2.88" font-size="8" text-anchor="middle"><tspan font-style="italic">P</tspan>=0.0003</text>
<text transform="translate(641.7 18.6) rotate(-90)" x="0" y="2.88" font-size="8" text-anchor="middle"><tspan font-style="italic">P</tspan>=0.0028</text>
<text x="564.65" y="72.48" font-size="9" font-weight="bold" letter-spacing="0.7" text-anchor="middle">**</text>
<text x="617.15" y="49.78" font-size="9" font-weight="bold" letter-spacing="0.7" text-anchor="middle">***</text>
<text x="642.35" y="52.28" font-size="9" font-weight="bold" letter-spacing="0.7" text-anchor="middle">**</text>
<line x1="555.35" y1="79.1" x2="572.65" y2="79.1" stroke="#4f88cf" stroke-width="1.2"/>
<line x1="564" y1="77.5" x2="564" y2="80.5" stroke="#14285a" stroke-width="1"/>
<line x1="560" y1="77.5" x2="568" y2="77.5" stroke="#14285a" stroke-width="1.1"/>
<line x1="560" y1="80.5" x2="568" y2="80.5" stroke="#14285a" stroke-width="1.1"/>
<circle cx="561" cy="78.5" r="1.65" fill="#2462b0"/>
<circle cx="565" cy="79.8" r="1.65" fill="#2462b0"/>
<circle cx="567.5" cy="78.5" r="1.65" fill="#2462b0"/>
<line x1="581.35" y1="63.3" x2="598.65" y2="63.3" stroke="#4f88cf" stroke-width="1.2"/>
<line x1="590" y1="60.2" x2="590" y2="66.4" stroke="#14285a" stroke-width="1"/>
<line x1="586" y1="60.2" x2="594" y2="60.2" stroke="#14285a" stroke-width="1.1"/>
<line x1="586" y1="66.4" x2="594" y2="66.4" stroke="#14285a" stroke-width="1.1"/>
<circle cx="590" cy="60.5" r="1.65" fill="#2462b0"/>
<circle cx="587.5" cy="65.8" r="1.65" fill="#2462b0"/>
<circle cx="592.5" cy="65.8" r="1.65" fill="#2462b0"/>
<line x1="607.15" y1="55.2" x2="624.45" y2="55.2" stroke="#4f88cf" stroke-width="1.2"/>
<line x1="615.8" y1="54.5" x2="615.8" y2="56" stroke="#14285a" stroke-width="1"/>
<line x1="611.8" y1="54.5" x2="619.8" y2="54.5" stroke="#14285a" stroke-width="1.1"/>
<line x1="611.8" y1="56" x2="619.8" y2="56" stroke="#14285a" stroke-width="1.1"/>
<circle cx="611.5" cy="55.5" r="1.65" fill="#2462b0"/>
<circle cx="615.5" cy="56" r="1.65" fill="#2462b0"/>
<circle cx="620" cy="54.3" r="1.65" fill="#2462b0"/>
<line x1="633.15" y1="58.9" x2="650.45" y2="58.9" stroke="#4f88cf" stroke-width="1.2"/>
<line x1="641.8" y1="57.5" x2="641.8" y2="60.3" stroke="#14285a" stroke-width="1"/>
<line x1="637.8" y1="57.5" x2="645.8" y2="57.5" stroke="#14285a" stroke-width="1.1"/>
<line x1="637.8" y1="60.3" x2="645.8" y2="60.3" stroke="#14285a" stroke-width="1.1"/>
<circle cx="639" cy="58.9" r="1.65" fill="#2462b0"/>
<circle cx="642" cy="58" r="1.65" fill="#2462b0"/>
<circle cx="644.5" cy="59.5" r="1.65" fill="#2462b0"/>
<line x1="555.35" y1="99.8" x2="572.65" y2="99.8" stroke="#ccb88e" stroke-width="1.2"/>
<line x1="564" y1="98" x2="564" y2="103.1" stroke="#7f6d4a" stroke-width="1"/>
<line x1="560" y1="98" x2="568" y2="98" stroke="#7f6d4a" stroke-width="1.1"/>
<line x1="560" y1="103.1" x2="568" y2="103.1" stroke="#7f6d4a" stroke-width="1.1"/>
<rect x="560.45" y="96.95" width="3.1" height="3.1" fill="#b39b6c"/>
<rect x="564.45" y="96.95" width="3.1" height="3.1" fill="#b39b6c"/>
<rect x="562.45" y="101.25" width="3.1" height="3.1" fill="#b39b6c"/>
<line x1="581.35" y1="96.6" x2="598.65" y2="96.6" stroke="#ccb88e" stroke-width="1.2"/>
<line x1="590" y1="96" x2="590" y2="97.2" stroke="#7f6d4a" stroke-width="1"/>
<line x1="586" y1="96" x2="594" y2="96" stroke="#7f6d4a" stroke-width="1.1"/>
<line x1="586" y1="97.2" x2="594" y2="97.2" stroke="#7f6d4a" stroke-width="1.1"/>
<rect x="584.45" y="95.25" width="3.1" height="3.1" fill="#b39b6c"/>
<rect x="588.45" y="94.65" width="3.1" height="3.1" fill="#b39b6c"/>
<rect x="592.45" y="95.25" width="3.1" height="3.1" fill="#b39b6c"/>
<line x1="607.15" y1="91.3" x2="624.45" y2="91.3" stroke="#ccb88e" stroke-width="1.2"/>
<line x1="615.8" y1="83.4" x2="615.8" y2="104.5" stroke="#7f6d4a" stroke-width="1"/>
<line x1="611.8" y1="83.4" x2="619.8" y2="83.4" stroke="#7f6d4a" stroke-width="1.1"/>
<line x1="611.8" y1="104.5" x2="619.8" y2="104.5" stroke="#7f6d4a" stroke-width="1.1"/>
<rect x="614.25" y="82.45" width="3.1" height="3.1" fill="#b39b6c"/>
<rect x="614.25" y="92.75" width="3.1" height="3.1" fill="#b39b6c"/>
<rect x="614.25" y="102.45" width="3.1" height="3.1" fill="#b39b6c"/>
<line x1="633.15" y1="96.6" x2="650.45" y2="96.6" stroke="#ccb88e" stroke-width="1.2"/>
<line x1="641.8" y1="90.4" x2="641.8" y2="104.5" stroke="#7f6d4a" stroke-width="1"/>
<line x1="637.8" y1="90.4" x2="645.8" y2="90.4" stroke="#7f6d4a" stroke-width="1.1"/>
<line x1="637.8" y1="104.5" x2="645.8" y2="104.5" stroke="#7f6d4a" stroke-width="1.1"/>
<rect x="640.25" y="89.25" width="3.1" height="3.1" fill="#b39b6c"/>
<rect x="640.25" y="97.95" width="3.1" height="3.1" fill="#b39b6c"/>
<rect x="640.25" y="102.25" width="3.1" height="3.1" fill="#b39b6c"/>
<line x1="376.5" y1="191" x2="376.5" y2="267.9" stroke="#141414" stroke-width="1.5"/>
<line x1="375.8" y1="267.2" x2="489" y2="267.2" stroke="#141414" stroke-width="1.5"/>
<line x1="373.5" y1="191.8" x2="376.5" y2="191.8" stroke="#141414" stroke-width="1.3"/>
<text x="368.3" y="194.36" font-size="6" text-anchor="end">10</text>
<text x="368.3" y="191.36" font-size="4.5">6</text>
<line x1="373.5" y1="210.65" x2="376.5" y2="210.65" stroke="#141414" stroke-width="1.3"/>
<text x="368.3" y="213.21" font-size="6" text-anchor="end">10</text>
<text x="368.3" y="210.21" font-size="4.5">5</text>
<line x1="373.5" y1="229.5" x2="376.5" y2="229.5" stroke="#141414" stroke-width="1.3"/>
<text x="368.3" y="232.06" font-size="6" text-anchor="end">10</text>
<text x="368.3" y="229.06" font-size="4.5">4</text>
<line x1="373.5" y1="248.35" x2="376.5" y2="248.35" stroke="#141414" stroke-width="1.3"/>
<text x="368.3" y="250.91" font-size="6" text-anchor="end">10</text>
<text x="368.3" y="247.91" font-size="4.5">3</text>
<line x1="373.5" y1="267.2" x2="376.5" y2="267.2" stroke="#141414" stroke-width="1.3"/>
<text x="368.3" y="269.76" font-size="6" text-anchor="end">10</text>
<text x="368.3" y="266.76" font-size="4.5">2</text>
<line x1="394" y1="267.2" x2="394" y2="270.4" stroke="#141414" stroke-width="1.3"/>
<line x1="420" y1="267.2" x2="420" y2="270.4" stroke="#141414" stroke-width="1.3"/>
<line x1="445.8" y1="267.2" x2="445.8" y2="270.4" stroke="#141414" stroke-width="1.3"/>
<line x1="471.7" y1="267.2" x2="471.7" y2="270.4" stroke="#141414" stroke-width="1.3"/>
<text transform="translate(342.6 228.2) rotate(-90)" x="0" y="2.84" font-size="7.9" text-anchor="middle">Number of NP RNA</text>
<text transform="translate(349.6 227.6) rotate(-90)" x="0" y="2.84" font-size="7.9" text-anchor="middle">in medium / well</text>
<text x="394.4" y="280.33" font-size="8.7" text-anchor="middle">15</text>
<text x="421.4" y="280.33" font-size="8.7" text-anchor="middle">18</text>
<text x="445.6" y="280.33" font-size="8.7" text-anchor="middle">21</text>
<text x="471.9" y="280.33" font-size="8.7" text-anchor="middle">24</text>
<text x="489" y="280.33" font-size="8.7" text-anchor="middle">hpi</text>
<text transform="translate(420.7 173.7) rotate(-90)" x="0" y="2.88" font-size="8" text-anchor="middle"><tspan font-style="italic">P</tspan>=0.0010</text>
<text transform="translate(471 161.7) rotate(-90)" x="0" y="2.88" font-size="8" text-anchor="middle"><tspan font-style="italic">P</tspan>=0.0013</text>
<text x="421.55" y="207.38" font-size="9" font-weight="bold" letter-spacing="0.7" text-anchor="middle">**</text>
<text x="472.85" y="191.88" font-size="9" font-weight="bold" letter-spacing="0.7" text-anchor="middle">**</text>
<line x1="385.35" y1="228.5" x2="402.65" y2="228.5" stroke="#4f88cf" stroke-width="1.2"/>
<line x1="394" y1="225" x2="394" y2="234.3" stroke="#14285a" stroke-width="1"/>
<line x1="390" y1="225" x2="398" y2="225" stroke="#14285a" stroke-width="1.1"/>
<line x1="390" y1="234.3" x2="398" y2="234.3" stroke="#14285a" stroke-width="1.1"/>
<circle cx="394.3" cy="224.9" r="1.65" fill="#2462b0"/>
<circle cx="392.5" cy="230.3" r="1.65" fill="#2462b0"/>
<circle cx="396.5" cy="232.7" r="1.65" fill="#2462b0"/>
<line x1="411.35" y1="214" x2="428.65" y2="214" stroke="#4f88cf" stroke-width="1.2"/>
<line x1="420" y1="213.5" x2="420" y2="214.5" stroke="#14285a" stroke-width="1"/>
<line x1="416" y1="213.5" x2="424" y2="213.5" stroke="#14285a" stroke-width="1.1"/>
<line x1="416" y1="214.5" x2="424" y2="214.5" stroke="#14285a" stroke-width="1.1"/>
<circle cx="415.5" cy="214" r="1.65" fill="#2462b0"/>
<circle cx="420" cy="214" r="1.65" fill="#2462b0"/>
<circle cx="424.5" cy="214" r="1.65" fill="#2462b0"/>
<line x1="437.25" y1="201.2" x2="454.55" y2="201.2" stroke="#4f88cf" stroke-width="1.2"/>
<line x1="445.9" y1="198.8" x2="445.9" y2="203.6" stroke="#14285a" stroke-width="1"/>
<line x1="441.9" y1="198.8" x2="449.9" y2="198.8" stroke="#14285a" stroke-width="1.1"/>
<line x1="441.9" y1="203.6" x2="449.9" y2="203.6" stroke="#14285a" stroke-width="1.1"/>
<circle cx="443" cy="199.5" r="1.65" fill="#2462b0"/>
<circle cx="448" cy="199.5" r="1.65" fill="#2462b0"/>
<circle cx="445.5" cy="203" r="1.65" fill="#2462b0"/>
<line x1="463.45" y1="195.5" x2="480.75" y2="195.5" stroke="#4f88cf" stroke-width="1.2"/>
<line x1="472.1" y1="195" x2="472.1" y2="196" stroke="#14285a" stroke-width="1"/>
<line x1="468.1" y1="195" x2="476.1" y2="195" stroke="#14285a" stroke-width="1.1"/>
<line x1="468.1" y1="196" x2="476.1" y2="196" stroke="#14285a" stroke-width="1.1"/>
<circle cx="466.5" cy="195.5" r="1.65" fill="#2462b0"/>
<circle cx="472" cy="195.5" r="1.65" fill="#2462b0"/>
<circle cx="477" cy="195.5" r="1.65" fill="#2462b0"/>
<line x1="385.35" y1="263.5" x2="402.65" y2="263.5" stroke="#ccb88e" stroke-width="1.2"/>
<line x1="394" y1="261.5" x2="394" y2="265.5" stroke="#7f6d4a" stroke-width="1"/>
<line x1="390" y1="261.5" x2="398" y2="261.5" stroke="#7f6d4a" stroke-width="1.1"/>
<line x1="390" y1="265.5" x2="398" y2="265.5" stroke="#7f6d4a" stroke-width="1.1"/>
<rect x="390.45" y="260.45" width="3.1" height="3.1" fill="#b39b6c"/>
<rect x="394.45" y="260.45" width="3.1" height="3.1" fill="#b39b6c"/>
<rect x="392.45" y="263.45" width="3.1" height="3.1" fill="#b39b6c"/>
<line x1="411.35" y1="252.8" x2="428.65" y2="252.8" stroke="#ccb88e" stroke-width="1.2"/>
<line x1="420" y1="249.5" x2="420" y2="257" stroke="#7f6d4a" stroke-width="1"/>
<line x1="416" y1="249.5" x2="424" y2="249.5" stroke="#7f6d4a" stroke-width="1.1"/>
<line x1="416" y1="257" x2="424" y2="257" stroke="#7f6d4a" stroke-width="1.1"/>
<rect x="417.95" y="248.25" width="3.1" height="3.1" fill="#b39b6c"/>
<rect x="416.45" y="253.45" width="3.1" height="3.1" fill="#b39b6c"/>
<rect x="419.95" y="254.45" width="3.1" height="3.1" fill="#b39b6c"/>
<line x1="437.25" y1="238.2" x2="454.55" y2="238.2" stroke="#ccb88e" stroke-width="1.2"/>
<line x1="445.9" y1="236.2" x2="445.9" y2="240.3" stroke="#7f6d4a" stroke-width="1"/>
<line x1="441.9" y1="236.2" x2="449.9" y2="236.2" stroke="#7f6d4a" stroke-width="1.1"/>
<line x1="441.9" y1="240.3" x2="449.9" y2="240.3" stroke="#7f6d4a" stroke-width="1.1"/>
<rect x="443.95" y="234.95" width="3.1" height="3.1" fill="#b39b6c"/>
<rect x="444.95" y="238.45" width="3.1" height="3.1" fill="#b39b6c"/>
<rect x="442.45" y="236.95" width="3.1" height="3.1" fill="#b39b6c"/>
<line x1="463.45" y1="230.3" x2="480.75" y2="230.3" stroke="#ccb88e" stroke-width="1.2"/>
<line x1="472.1" y1="228" x2="472.1" y2="232.6" stroke="#7f6d4a" stroke-width="1"/>
<line x1="468.1" y1="228" x2="476.1" y2="228" stroke="#7f6d4a" stroke-width="1.1"/>
<line x1="468.1" y1="232.6" x2="476.1" y2="232.6" stroke="#7f6d4a" stroke-width="1.1"/>
<rect x="470.45" y="226.65" width="3.1" height="3.1" fill="#b39b6c"/>
<rect x="468.45" y="230.45" width="3.1" height="3.1" fill="#b39b6c"/>
<rect x="472.45" y="230.45" width="3.1" height="3.1" fill="#b39b6c"/>
<circle cx="507.8" cy="161.4" r="1.35" fill="#2462b0"/>
<rect x="506.3" y="169.5" width="3" height="3" fill="#b39b6c"/>
<text x="516" y="163.93" font-size="6.2">control</text>
<text x="516" y="173.23" font-size="6.2">G12(S)</text>
<line x1="546.5" y1="192.4" x2="546.5" y2="268.5" stroke="#141414" stroke-width="1.5"/>
<line x1="545.8" y1="267.8" x2="659.4" y2="267.8" stroke="#141414" stroke-width="1.5"/>
<line x1="543.5" y1="193.1" x2="546.5" y2="193.1" stroke="#141414" stroke-width="1.3"/>
<text x="537.8" y="196.38" font-size="8" text-anchor="end">10</text>
<text x="537.8" y="192.38" font-size="5.5">8</text>
<line x1="543.5" y1="205.55" x2="546.5" y2="205.55" stroke="#141414" stroke-width="1.3"/>
<text x="537.8" y="208.83" font-size="8" text-anchor="end">10</text>
<text x="537.8" y="204.83" font-size="5.5">7</text>
<line x1="543.5" y1="218" x2="546.5" y2="218" stroke="#141414" stroke-width="1.3"/>
<text x="537.8" y="221.28" font-size="8" text-anchor="end">10</text>
<text x="537.8" y="217.28" font-size="5.5">6</text>
<line x1="543.5" y1="230.45" x2="546.5" y2="230.45" stroke="#141414" stroke-width="1.3"/>
<text x="537.8" y="233.73" font-size="8" text-anchor="end">10</text>
<text x="537.8" y="229.73" font-size="5.5">5</text>
<line x1="543.5" y1="242.9" x2="546.5" y2="242.9" stroke="#141414" stroke-width="1.3"/>
<text x="537.8" y="246.18" font-size="8" text-anchor="end">10</text>
<text x="537.8" y="242.18" font-size="5.5">4</text>
<line x1="543.5" y1="255.35" x2="546.5" y2="255.35" stroke="#141414" stroke-width="1.3"/>
<text x="537.8" y="258.63" font-size="8" text-anchor="end">10</text>
<text x="537.8" y="254.63" font-size="5.5">3</text>
<line x1="543.5" y1="267.8" x2="546.5" y2="267.8" stroke="#141414" stroke-width="1.3"/>
<text x="537.8" y="271.08" font-size="8" text-anchor="end">10</text>
<text x="537.8" y="267.08" font-size="5.5">2</text>
<line x1="563.8" y1="267.8" x2="563.8" y2="271" stroke="#141414" stroke-width="1.3"/>
<line x1="589.4" y1="267.8" x2="589.4" y2="271" stroke="#141414" stroke-width="1.3"/>
<line x1="615.8" y1="267.8" x2="615.8" y2="271" stroke="#141414" stroke-width="1.3"/>
<line x1="641.6" y1="267.8" x2="641.6" y2="271" stroke="#141414" stroke-width="1.3"/>
<text transform="translate(511.4 230.2) rotate(-90)" x="0" y="2.84" font-size="7.9" text-anchor="middle">Number of HA RNA</text>
<text transform="translate(519.6 229.6) rotate(-90)" x="0" y="2.84" font-size="7.9" text-anchor="middle">in medium / well</text>
<text x="563.4" y="282.63" font-size="8.7" text-anchor="middle">15</text>
<text x="590.5" y="282.63" font-size="8.7" text-anchor="middle">18</text>
<text x="615.8" y="282.63" font-size="8.7" text-anchor="middle">21</text>
<text x="641" y="282.63" font-size="8.7" text-anchor="middle">24</text>
<text x="655" y="282.63" font-size="8.7" text-anchor="middle">hpi</text>
<text transform="translate(588.7 178.2) rotate(-90)" x="0" y="2.88" font-size="8" text-anchor="middle"><tspan font-style="italic">P</tspan>=0.0340</text>
<text transform="translate(614 169.55) rotate(-90)" x="0" y="2.88" font-size="8" text-anchor="middle"><tspan font-style="italic">P</tspan>&lt;0.0001</text>
<text transform="translate(642.8 170.8) rotate(-90)" x="0" y="2.88" font-size="8" text-anchor="middle"><tspan font-style="italic">P</tspan>&lt;0.0001</text>
<text x="589.05" y="211.38" font-size="9" font-weight="bold" letter-spacing="0.7" text-anchor="middle">*</text>
<text x="615.75" y="201.18" font-size="9" font-weight="bold" letter-spacing="0.7" text-anchor="middle">****</text>
<text x="642.85" y="200.48" font-size="9" font-weight="bold" letter-spacing="0.7" text-anchor="middle">****</text>
<line x1="555.15" y1="228.8" x2="572.45" y2="228.8" stroke="#4f88cf" stroke-width="1.2"/>
<line x1="563.8" y1="226.5" x2="563.8" y2="231" stroke="#14285a" stroke-width="1"/>
<line x1="559.8" y1="226.5" x2="567.8" y2="226.5" stroke="#14285a" stroke-width="1.1"/>
<line x1="559.8" y1="231" x2="567.8" y2="231" stroke="#14285a" stroke-width="1.1"/>
<circle cx="563.4" cy="226.7" r="1.65" fill="#2462b0"/>
<circle cx="561" cy="230.5" r="1.65" fill="#2462b0"/>
<circle cx="565.5" cy="230.5" r="1.65" fill="#2462b0"/>
<line x1="581.05" y1="218.6" x2="598.35" y2="218.6" stroke="#4f88cf" stroke-width="1.2"/>
<line x1="589.7" y1="218.2" x2="589.7" y2="219" stroke="#14285a" stroke-width="1"/>
<line x1="585.7" y1="218.2" x2="593.7" y2="218.2" stroke="#14285a" stroke-width="1.1"/>
<line x1="585.7" y1="219" x2="593.7" y2="219" stroke="#14285a" stroke-width="1.1"/>
<circle cx="584.5" cy="218.6" r="1.65" fill="#2462b0"/>
<circle cx="589.5" cy="218.6" r="1.65" fill="#2462b0"/>
<circle cx="594.5" cy="218.6" r="1.65" fill="#2462b0"/>
<line x1="606.95" y1="209.5" x2="624.25" y2="209.5" stroke="#4f88cf" stroke-width="1.2"/>
<line x1="615.6" y1="208.5" x2="615.6" y2="210.5" stroke="#14285a" stroke-width="1"/>
<line x1="611.6" y1="208.5" x2="619.6" y2="208.5" stroke="#14285a" stroke-width="1.1"/>
<line x1="611.6" y1="210.5" x2="619.6" y2="210.5" stroke="#14285a" stroke-width="1.1"/>
<circle cx="611" cy="209.8" r="1.65" fill="#2462b0"/>
<circle cx="615.5" cy="210.3" r="1.65" fill="#2462b0"/>
<circle cx="620" cy="208.5" r="1.65" fill="#2462b0"/>
<line x1="633.15" y1="206.3" x2="650.45" y2="206.3" stroke="#4f88cf" stroke-width="1.2"/>
<line x1="641.8" y1="206" x2="641.8" y2="206.6" stroke="#14285a" stroke-width="1"/>
<line x1="637.8" y1="206" x2="645.8" y2="206" stroke="#14285a" stroke-width="1.1"/>
<line x1="637.8" y1="206.6" x2="645.8" y2="206.6" stroke="#14285a" stroke-width="1.1"/>
<circle cx="636.5" cy="206.3" r="1.65" fill="#2462b0"/>
<circle cx="641.5" cy="206.3" r="1.65" fill="#2462b0"/>
<circle cx="646.5" cy="206.3" r="1.65" fill="#2462b0"/>
<line x1="555.15" y1="255.7" x2="572.45" y2="255.7" stroke="#ccb88e" stroke-width="1.2"/>
<line x1="563.8" y1="254" x2="563.8" y2="258" stroke="#7f6d4a" stroke-width="1"/>
<line x1="559.8" y1="254" x2="567.8" y2="254" stroke="#7f6d4a" stroke-width="1.1"/>
<line x1="559.8" y1="258" x2="567.8" y2="258" stroke="#7f6d4a" stroke-width="1.1"/>
<rect x="559.95" y="252.95" width="3.1" height="3.1" fill="#b39b6c"/>
<rect x="563.95" y="252.95" width="3.1" height="3.1" fill="#b39b6c"/>
<rect x="561.95" y="256.65" width="3.1" height="3.1" fill="#b39b6c"/>
<line x1="581.05" y1="249.1" x2="598.35" y2="249.1" stroke="#ccb88e" stroke-width="1.2"/>
<line x1="589.7" y1="246" x2="589.7" y2="254.3" stroke="#7f6d4a" stroke-width="1"/>
<line x1="585.7" y1="246" x2="593.7" y2="246" stroke="#7f6d4a" stroke-width="1.1"/>
<line x1="585.7" y1="254.3" x2="593.7" y2="254.3" stroke="#7f6d4a" stroke-width="1.1"/>
<rect x="588.15" y="244.85" width="3.1" height="3.1" fill="#b39b6c"/>
<rect x="586.95" y="250.45" width="3.1" height="3.1" fill="#b39b6c"/>
<rect x="589.45" y="252.25" width="3.1" height="3.1" fill="#b39b6c"/>
<line x1="606.95" y1="238.5" x2="624.25" y2="238.5" stroke="#ccb88e" stroke-width="1.2"/>
<line x1="615.6" y1="237.8" x2="615.6" y2="239.3" stroke="#7f6d4a" stroke-width="1"/>
<line x1="611.6" y1="237.8" x2="619.6" y2="237.8" stroke="#7f6d4a" stroke-width="1.1"/>
<line x1="611.6" y1="239.3" x2="619.6" y2="239.3" stroke="#7f6d4a" stroke-width="1.1"/>
<rect x="609.95" y="237.45" width="3.1" height="3.1" fill="#b39b6c"/>
<rect x="613.95" y="236.45" width="3.1" height="3.1" fill="#b39b6c"/>
<rect x="617.95" y="236.95" width="3.1" height="3.1" fill="#b39b6c"/>
<line x1="633.15" y1="232.6" x2="650.45" y2="232.6" stroke="#ccb88e" stroke-width="1.2"/>
<line x1="641.8" y1="230.5" x2="641.8" y2="234.5" stroke="#7f6d4a" stroke-width="1"/>
<line x1="637.8" y1="230.5" x2="645.8" y2="230.5" stroke="#7f6d4a" stroke-width="1.1"/>
<line x1="637.8" y1="234.5" x2="645.8" y2="234.5" stroke="#7f6d4a" stroke-width="1.1"/>
<rect x="636.45" y="231.95" width="3.1" height="3.1" fill="#b39b6c"/>
<rect x="640.45" y="229.25" width="3.1" height="3.1" fill="#b39b6c"/>
<rect x="643.95" y="231.95" width="3.1" height="3.1" fill="#b39b6c"/>
<text x="4.8" y="331.2" font-size="20.5" letter-spacing="0.9">d)</text>
<line x1="41.3" y1="327" x2="41.3" y2="325.4" stroke="#6a6a6a" stroke-width="0.7"/>
<circle cx="41.3" cy="325.4" r="0.85" fill="#5e5e5e"/>
<line x1="43.8" y1="327.67" x2="44.6" y2="326.28" stroke="#6a6a6a" stroke-width="0.7"/>
<circle cx="44.6" cy="326.28" r="0.85" fill="#5e5e5e"/>
<line x1="45.63" y1="329.5" x2="47.02" y2="328.7" stroke="#6a6a6a" stroke-width="0.7"/>
<circle cx="47.02" cy="328.7" r="0.85" fill="#5e5e5e"/>
<line x1="46.3" y1="332" x2="47.9" y2="332" stroke="#6a6a6a" stroke-width="0.7"/>
<circle cx="47.9" cy="332" r="0.85" fill="#5e5e5e"/>
<line x1="45.63" y1="334.5" x2="47.02" y2="335.3" stroke="#6a6a6a" stroke-width="0.7"/>
<circle cx="47.02" cy="335.3" r="0.85" fill="#5e5e5e"/>
<line x1="43.8" y1="336.33" x2="44.6" y2="337.72" stroke="#6a6a6a" stroke-width="0.7"/>
<circle cx="44.6" cy="337.72" r="0.85" fill="#5e5e5e"/>
<line x1="41.3" y1="337" x2="41.3" y2="338.6" stroke="#6a6a6a" stroke-width="0.7"/>
<circle cx="41.3" cy="338.6" r="0.85" fill="#5e5e5e"/>
<line x1="38.8" y1="336.33" x2="38" y2="337.72" stroke="#6a6a6a" stroke-width="0.7"/>
<circle cx="38" cy="337.72" r="0.85" fill="#5e5e5e"/>
<line x1="36.97" y1="334.5" x2="35.58" y2="335.3" stroke="#6a6a6a" stroke-width="0.7"/>
<circle cx="35.58" cy="335.3" r="0.85" fill="#5e5e5e"/>
<line x1="36.3" y1="332" x2="34.7" y2="332" stroke="#6a6a6a" stroke-width="0.7"/>
<circle cx="34.7" cy="332" r="0.85" fill="#5e5e5e"/>
<line x1="36.97" y1="329.5" x2="35.58" y2="328.7" stroke="#6a6a6a" stroke-width="0.7"/>
<circle cx="35.58" cy="328.7" r="0.85" fill="#5e5e5e"/>
<line x1="38.8" y1="327.67" x2="38" y2="326.28" stroke="#6a6a6a" stroke-width="0.7"/>
<circle cx="38" cy="326.28" r="0.85" fill="#5e5e5e"/>
<circle cx="41.3" cy="332" r="4.2" fill="#e6eef6" stroke="#c8601f" stroke-width="1.75"/>
<path d="M40 329.8 q1.4 0.9 0.2 2.0 q-1.0 1.0 0.9 2.0 M41.9 330.8 q1.6 0.8 0.4 2.6" stroke="#3d7fc0" stroke-width="0.8" fill="none"/>
<path d="M39.5 331.5 l0.6 2" stroke="#c0603a" stroke-width="0.5" fill="none"/>
<path d="M38.4 344.4 L38.4 349.1 A10.9 4.4 0 0 0 60.2 349.1 L60.2 344.4 Z" fill="#d9a6d0"/>
<ellipse cx="49.3" cy="346.8" rx="10.5" ry="4.1" fill="#c48bbd" stroke="#8f5f93" stroke-width="0.5"/>
<path d="M38.4 343.9 L38.4 349.1 A10.9 4.4 0 0 0 60.2 349.1 L60.2 343.9" fill="none" stroke="#4173b5" stroke-width="0.8"/>
<ellipse cx="49.3" cy="343.9" rx="10.9" ry="4.4" fill="none" stroke="#4173b5" stroke-width="0.8"/>
<line x1="47.6" y1="362" x2="47.6" y2="384.8" stroke="#444" stroke-width="0.7"/>
<path d="M47.6 386.8 L46.4 384.4 L48.8 384.4 Z" stroke="none" stroke-width="1" fill="#222"/>
<text x="26.2" y="374.37" font-size="10.2">1 h</text>
<text x="62" y="374.37" font-size="10.2"><tspan font-style="italic">MOI</tspan> = 1</text>
<text x="10.4" y="399.97" font-size="10.2">Change medium</text>
<text x="21" y="412.37" font-size="10.2" fill="#c8102e">w/o trypsine</text>
<line x1="47.6" y1="422" x2="47.6" y2="447.4" stroke="#444" stroke-width="0.7"/>
<path d="M47.6 449.4 L46.4 447 L48.8 447 Z" stroke="none" stroke-width="1" fill="#222"/>
<text x="83.1" y="433.27" font-size="10.2" text-anchor="middle">0.5 or 2 μM</text>
<text x="83.3" y="444.37" font-size="10.2" text-anchor="middle">G12 (S)</text>
<line x1="47.6" y1="455.4" x2="47.6" y2="481" stroke="#444" stroke-width="0.7"/>
<path d="M47.6 483 L46.4 480.6 L48.8 480.6 Z" stroke="none" stroke-width="1" fill="#222"/>
<text x="59" y="470.47" font-size="10.2">4, 6 hpi</text>
<path d="M35.4 490.6 L35.4 495.7 A11.2 4.4 0 0 0 57.8 495.7 L57.8 490.6 Z" fill="#d9a6d0"/>
<ellipse cx="46.6" cy="493" rx="10.8" ry="4.1" fill="#c48bbd" stroke="#8f5f93" stroke-width="0.5"/>
<path d="M35.4 490.1 L35.4 495.7 A11.2 4.4 0 0 0 57.8 495.7 L57.8 490.1" fill="none" stroke="#4173b5" stroke-width="0.8"/>
<ellipse cx="46.6" cy="490.1" rx="11.2" ry="4.4" fill="none" stroke="#4173b5" stroke-width="0.8"/>
<line x1="59.6" y1="494.2" x2="101.08" y2="484.09" stroke="#3a3a3a" stroke-width="0.7"/>
<path d="M103.9 483.4 L100.95 485.66 L100.24 482.75 Z" stroke="none" stroke-width="1" fill="#222"/>
<line x1="59.6" y1="497.6" x2="101.08" y2="507.62" stroke="#3a3a3a" stroke-width="0.7"/>
<path d="M103.9 508.3 L100.24 508.96 L100.95 506.04 Z" stroke="none" stroke-width="1" fill="#222"/>
<text x="111.7" y="481.07" font-size="10.2">Culture medium</text>
<text x="117" y="493.47" font-size="10.2">(-) RNA</text>
<text x="108.8" y="516.57" font-size="10.2">Total cell RNA prep</text>
<text x="114" y="528.47" font-size="10.2">(-) RNA, (+)RNA</text>
<text x="215.8" y="331" font-size="20.5" letter-spacing="0.9">e)</text>
<text x="338" y="359.81" font-size="10.3">Cellular RNA</text>
<line x1="279" y1="367.6" x2="465.2" y2="367.6" stroke="#555" stroke-width="1.1"/>
<line x1="260" y1="385.2" x2="260" y2="480.3" stroke="#141414" stroke-width="1.6"/>
<line x1="259.3" y1="479.6" x2="353.6" y2="479.6" stroke="#141414" stroke-width="1.6"/>
<line x1="256.2" y1="385.9" x2="260" y2="385.9" stroke="#141414" stroke-width="1.3"/>
<text x="253.7" y="388.64" font-size="7.6" text-anchor="end">40</text>
<line x1="256.2" y1="409.32" x2="260" y2="409.32" stroke="#141414" stroke-width="1.3"/>
<text x="253.7" y="412.06" font-size="7.6" text-anchor="end">30</text>
<line x1="256.2" y1="432.75" x2="260" y2="432.75" stroke="#141414" stroke-width="1.3"/>
<text x="253.7" y="435.49" font-size="7.6" text-anchor="end">20</text>
<line x1="256.2" y1="456.18" x2="260" y2="456.18" stroke="#141414" stroke-width="1.3"/>
<text x="253.7" y="458.91" font-size="7.6" text-anchor="end">10</text>
<line x1="256.2" y1="479.6" x2="260" y2="479.6" stroke="#141414" stroke-width="1.3"/>
<text x="253.7" y="482.34" font-size="7.6" text-anchor="end">0</text>
<line x1="269.6" y1="479.6" x2="269.6" y2="483.4" stroke="#141414" stroke-width="1.3"/>
<line x1="284" y1="479.6" x2="284" y2="483.4" stroke="#141414" stroke-width="1.3"/>
<line x1="299" y1="479.6" x2="299" y2="483.4" stroke="#141414" stroke-width="1.3"/>
<line x1="313.9" y1="479.6" x2="313.9" y2="483.4" stroke="#141414" stroke-width="1.3"/>
<line x1="328.7" y1="479.6" x2="328.7" y2="483.4" stroke="#141414" stroke-width="1.3"/>
<line x1="343.5" y1="479.6" x2="343.5" y2="483.4" stroke="#141414" stroke-width="1.3"/>
<text transform="translate(233.4 425.6) rotate(-90)" x="0" y="3.56" font-size="9.9" text-anchor="middle">Number of RNA (10 <tspan font-size="8" dy="-4">-3</tspan><tspan dy="4">) / well</tspan></text>
<text x="275.4" y="387.22" font-size="8.4">NP (+) RNA</text>
<text x="269.6" y="494.09" font-size="8.3" text-anchor="middle">0</text>
<text x="284" y="494.09" font-size="8.3" text-anchor="middle">0.5</text>
<text x="299" y="494.09" font-size="8.3" text-anchor="middle">2</text>
<text x="313.9" y="494.09" font-size="8.3" text-anchor="middle">0</text>
<text x="328.7" y="494.09" font-size="8.3" text-anchor="middle">0.5</text>
<text x="343.5" y="494.09" font-size="8.3" text-anchor="middle">2</text>
<line x1="266.9" y1="497.4" x2="303.3" y2="497.4" stroke="#141414" stroke-width="1.3"/>
<line x1="312.6" y1="497.4" x2="348.8" y2="497.4" stroke="#141414" stroke-width="1.3"/>
<text x="287.4" y="505.91" font-size="8.1" text-anchor="middle">4 hpi</text>
<text x="329.5" y="505.91" font-size="8.1" text-anchor="middle">6 hpi</text>
<rect x="265" y="464.5" width="9.5" height="6" fill="#2461b1" rx="2"/>
<circle cx="266.1" cy="467.64" r="1.8" fill="#2461b1"/>
<circle cx="267.1" cy="465.71" r="1.8" fill="#2461b1"/>
<circle cx="269.6" cy="468.03" r="1.8" fill="#2461b1"/>
<circle cx="272.1" cy="466.23" r="1.8" fill="#2461b1"/>
<circle cx="273.1" cy="467.77" r="1.8" fill="#2461b1"/>
<circle cx="267.93" cy="469.06" r="1.8" fill="#2461b1"/>
<circle cx="271.27" cy="464.94" r="1.8" fill="#2461b1"/>
<rect x="279.6" y="465.6" width="9.8" height="4.2" fill="#b39b6c" rx="2"/>
<circle cx="280.9" cy="467.96" r="1.7" fill="#b39b6c"/>
<circle cx="281.9" cy="466.89" r="1.7" fill="#b39b6c"/>
<circle cx="284.4" cy="468.17" r="1.7" fill="#b39b6c"/>
<circle cx="286.9" cy="467.17" r="1.7" fill="#b39b6c"/>
<circle cx="287.9" cy="468.03" r="1.7" fill="#b39b6c"/>
<circle cx="282.73" cy="468.74" r="1.7" fill="#b39b6c"/>
<rect x="294.3" y="465" width="9.8" height="5" fill="#dcd6c8" rx="2.2"/>
<circle cx="295.7" cy="467.7" r="1.8" fill="#dcd6c8"/>
<circle cx="296.7" cy="466.2" r="1.8" fill="#dcd6c8"/>
<circle cx="299.2" cy="468" r="1.8" fill="#dcd6c8"/>
<circle cx="301.7" cy="466.6" r="1.8" fill="#dcd6c8"/>
<circle cx="302.7" cy="467.8" r="1.8" fill="#dcd6c8"/>
<circle cx="297.53" cy="468.8" r="1.8" fill="#dcd6c8"/>
<line x1="313.9" y1="405.2" x2="313.9" y2="408.4" stroke="#22505e" stroke-width="1.2"/>
<line x1="313.9" y1="418" x2="313.9" y2="424" stroke="#22505e" stroke-width="1.2"/>
<rect x="308.9" y="408.4" width="10" height="9.6" fill="#a9d3e6" stroke="#22505e" stroke-width="1.2"/>
<line x1="308.9" y1="413" x2="318.9" y2="413" stroke="#22505e" stroke-width="1.2"/>
<circle cx="311" cy="414" r="1.9" fill="#5fb0d2"/>
<circle cx="316.5" cy="413" r="1.9" fill="#5fb0d2"/>
<circle cx="317.5" cy="415.5" r="1.9" fill="#5fb0d2"/>
<circle cx="310.5" cy="412" r="1.9" fill="#5fb0d2"/>
<path d="M313.9 403.2 L316.1 405.4 L313.9 407.6 L311.7 405.4 Z" stroke="none" stroke-width="1" fill="#5fb0d2"/>
<path d="M313.9 421.6 L316.1 423.8 L313.9 426 L311.7 423.8 Z" stroke="none" stroke-width="1" fill="#5fb0d2"/>
<line x1="328.7" y1="408.5" x2="328.7" y2="409.4" stroke="#51575e" stroke-width="1.2"/>
<line x1="328.7" y1="419.8" x2="328.7" y2="420.5" stroke="#51575e" stroke-width="1.2"/>
<rect x="323.7" y="409.4" width="10" height="10.4" fill="#6c7278" stroke="#51575e" stroke-width="1.2"/>
<line x1="323.7" y1="413.5" x2="333.7" y2="413.5" stroke="#51575e" stroke-width="1.2"/>
<circle cx="324.8" cy="410" r="1.9" fill="#51575e"/>
<circle cx="332.5" cy="410" r="1.9" fill="#51575e"/>
<circle cx="324.5" cy="419" r="1.9" fill="#51575e"/>
<circle cx="332.8" cy="418.2" r="1.9" fill="#51575e"/>
<circle cx="328" cy="420" r="1.9" fill="#51575e"/>
<line x1="343.5" y1="411.6" x2="343.5" y2="413.6" stroke="#0f2450" stroke-width="1.2"/>
<line x1="343.5" y1="427.2" x2="343.5" y2="445.7" stroke="#0f2450" stroke-width="1.2"/>
<rect x="338.6" y="413.6" width="9.8" height="13.6" fill="#2461b1" stroke="#0f2450" stroke-width="1.2"/>
<line x1="338.6" y1="416.5" x2="348.4" y2="416.5" stroke="#0f2450" stroke-width="1.2"/>
<circle cx="339.6" cy="414.2" r="1.9" fill="#2461b1"/>
<circle cx="347.4" cy="414.2" r="1.9" fill="#2461b1"/>
<circle cx="343.5" cy="412" r="1.9" fill="#2461b1"/>
<path d="M343.5 409.3 L345.7 411.5 L343.5 413.7 L341.3 411.5 Z" stroke="none" stroke-width="1" fill="#2461b1"/>
<path d="M343.5 443.4 L345.7 445.6 L343.5 447.8 L341.3 445.6 Z" stroke="none" stroke-width="1" fill="#2461b1"/>
<line x1="380.3" y1="384.5" x2="380.3" y2="479.9" stroke="#141414" stroke-width="1.6"/>
<line x1="379.6" y1="479.2" x2="473.3" y2="479.2" stroke="#141414" stroke-width="1.6"/>
<line x1="376.5" y1="385.2" x2="380.3" y2="385.2" stroke="#141414" stroke-width="1.3"/>
<text x="373.7" y="387.79" font-size="7.2" text-anchor="end">1.5</text>
<line x1="376.5" y1="416.53" x2="380.3" y2="416.53" stroke="#141414" stroke-width="1.3"/>
<text x="373.7" y="419.13" font-size="7.2" text-anchor="end">1.0</text>
<line x1="376.5" y1="447.87" x2="380.3" y2="447.87" stroke="#141414" stroke-width="1.3"/>
<text x="373.7" y="450.46" font-size="7.2" text-anchor="end">0.5</text>
<line x1="376.5" y1="479.2" x2="380.3" y2="479.2" stroke="#141414" stroke-width="1.3"/>
<text x="373.7" y="481.79" font-size="7.2" text-anchor="end">0</text>
<line x1="389.1" y1="479.2" x2="389.1" y2="483" stroke="#141414" stroke-width="1.3"/>
<line x1="404.2" y1="479.2" x2="404.2" y2="483" stroke="#141414" stroke-width="1.3"/>
<line x1="419.2" y1="479.2" x2="419.2" y2="483" stroke="#141414" stroke-width="1.3"/>
<line x1="434.1" y1="479.2" x2="434.1" y2="483" stroke="#141414" stroke-width="1.3"/>
<line x1="448.8" y1="479.2" x2="448.8" y2="483" stroke="#141414" stroke-width="1.3"/>
<line x1="463.7" y1="479.2" x2="463.7" y2="483" stroke="#141414" stroke-width="1.3"/>
<text x="391.6" y="387.82" font-size="8.4">NP (-) RNA</text>
<text x="389.1" y="494.89" font-size="8.3" text-anchor="middle">0</text>
<text x="404.2" y="494.89" font-size="8.3" text-anchor="middle">0.5</text>
<text x="419.2" y="494.89" font-size="8.3" text-anchor="middle">2</text>
<text x="434.1" y="494.89" font-size="8.3" text-anchor="middle">0</text>
<text x="448.8" y="494.89" font-size="8.3" text-anchor="middle">0.5</text>
<text x="463.7" y="494.89" font-size="8.3" text-anchor="middle">2</text>
<line x1="387.1" y1="498.2" x2="423.9" y2="498.2" stroke="#141414" stroke-width="1.3"/>
<line x1="432.4" y1="498.2" x2="469.2" y2="498.2" stroke="#141414" stroke-width="1.3"/>
<text x="406.9" y="506.31" font-size="8.1" text-anchor="middle">4 hpi</text>
<text x="450.4" y="506.31" font-size="8.1" text-anchor="middle">6 hpi</text>
<text x="477" y="494.82" font-size="8.1">μM G12(S)</text>
<rect x="385" y="470.6" width="9.5" height="4" fill="#2461b1" rx="1.8"/>
<circle cx="386" cy="472.83" r="1.8" fill="#2461b1"/>
<circle cx="387" cy="471.54" r="1.8" fill="#2461b1"/>
<circle cx="389.5" cy="473.09" r="1.8" fill="#2461b1"/>
<circle cx="392" cy="471.89" r="1.8" fill="#2461b1"/>
<circle cx="393" cy="472.91" r="1.8" fill="#2461b1"/>
<circle cx="387.83" cy="473.77" r="1.8" fill="#2461b1"/>
<circle cx="391.17" cy="471.03" r="1.8" fill="#2461b1"/>
<rect x="400" y="470.8" width="9.2" height="3.8" fill="#b39b6c" rx="1.8"/>
<circle cx="401" cy="472.96" r="1.7" fill="#b39b6c"/>
<circle cx="402" cy="471.89" r="1.7" fill="#b39b6c"/>
<circle cx="404.5" cy="473.17" r="1.7" fill="#b39b6c"/>
<circle cx="407" cy="472.17" r="1.7" fill="#b39b6c"/>
<circle cx="408" cy="473.03" r="1.7" fill="#b39b6c"/>
<circle cx="402.83" cy="473.74" r="1.7" fill="#b39b6c"/>
<rect x="414.6" y="471" width="9.6" height="4.2" fill="#dcd6c8" rx="2"/>
<circle cx="415.8" cy="473.43" r="1.8" fill="#dcd6c8"/>
<circle cx="416.8" cy="472.14" r="1.8" fill="#dcd6c8"/>
<circle cx="419.3" cy="473.69" r="1.8" fill="#dcd6c8"/>
<circle cx="421.8" cy="472.49" r="1.8" fill="#dcd6c8"/>
<circle cx="422.8" cy="473.51" r="1.8" fill="#dcd6c8"/>
<circle cx="417.63" cy="474.37" r="1.8" fill="#dcd6c8"/>
<line x1="417.5" y1="474.8" x2="420.5" y2="474.8" stroke="#333" stroke-width="0.8"/>
<line x1="434.1" y1="428.5" x2="434.1" y2="434.7" stroke="#22505e" stroke-width="1.2"/>
<line x1="434.1" y1="447" x2="434.1" y2="447" stroke="#22505e" stroke-width="1.2"/>
<rect x="429.8" y="434.7" width="8.6" height="12.3" fill="#a9d3e6" stroke="#22505e" stroke-width="1.2"/>
<line x1="429.8" y1="440" x2="438.4" y2="440" stroke="#22505e" stroke-width="1.2"/>
<circle cx="431" cy="447.5" r="1.9" fill="#5fb0d2"/>
<circle cx="434" cy="447" r="1.9" fill="#5fb0d2"/>
<circle cx="437.5" cy="447.5" r="1.9" fill="#5fb0d2"/>
<circle cx="434.5" cy="441.5" r="1.9" fill="#5fb0d2"/>
<circle cx="432" cy="436" r="1.9" fill="#5fb0d2"/>
<path d="M434.1 426.4 L436.3 428.6 L434.1 430.8 L431.9 428.6 Z" stroke="none" stroke-width="1" fill="#5fb0d2"/>
<line x1="448.8" y1="435.3" x2="448.8" y2="438.4" stroke="#51575e" stroke-width="1.2"/>
<line x1="448.8" y1="449.6" x2="448.8" y2="450.6" stroke="#51575e" stroke-width="1.2"/>
<rect x="444.6" y="438.4" width="8.4" height="11.2" fill="#6c7278" stroke="#51575e" stroke-width="1.2"/>
<line x1="444.6" y1="442.5" x2="453" y2="442.5" stroke="#51575e" stroke-width="1.2"/>
<circle cx="445.5" cy="449.5" r="1.9" fill="#51575e"/>
<circle cx="452" cy="448.5" r="1.9" fill="#51575e"/>
<circle cx="448.5" cy="444" r="1.9" fill="#51575e"/>
<circle cx="452" cy="436" r="1.9" fill="#51575e"/>
<circle cx="446" cy="450.5" r="1.9" fill="#51575e"/>
<line x1="463.8" y1="417.9" x2="463.8" y2="424" stroke="#0f2450" stroke-width="1.2"/>
<line x1="463.8" y1="444.5" x2="463.8" y2="448.6" stroke="#0f2450" stroke-width="1.2"/>
<rect x="459.4" y="424" width="8.8" height="20.5" fill="#8e9bd6" stroke="#0f2450" stroke-width="1.2"/>
<line x1="459.4" y1="438.4" x2="468.2" y2="438.4" stroke="#0f2450" stroke-width="1.2"/>
<circle cx="463.8" cy="426" r="1.9" fill="#2461b1"/>
<circle cx="460.5" cy="441.2" r="1.9" fill="#2461b1"/>
<circle cx="467" cy="441" r="1.9" fill="#2461b1"/>
<circle cx="463.8" cy="434" r="1.9" fill="#2461b1"/>
<path d="M463.8 415.8 L466 418 L463.8 420.2 L461.6 418 Z" stroke="none" stroke-width="1" fill="#2461b1"/>
<path d="M463.8 446.3 L466 448.5 L463.8 450.7 L461.6 448.5 Z" stroke="none" stroke-width="1" fill="#2461b1"/>
<text x="516" y="331.5" font-size="20.5" letter-spacing="0.9">f)</text>
<text x="573" y="348.67" font-size="10.2">Culture medium</text>
<text x="574" y="362.86" font-size="8.5">NP (-) RNA (vRNA)</text>
<text x="582.5" y="377.44" font-size="7.9"><tspan font-style="italic">P</tspan>&lt;0.0001</text>
<line x1="576.8" y1="379.3" x2="621.5" y2="379.3" stroke="#f08b6c" stroke-width="1.2"/>
<text x="580.5" y="388.24" font-size="7.9"><tspan font-style="italic">P</tspan>&lt;0.0001</text>
<line x1="578" y1="390.9" x2="600.4" y2="390.9" stroke="#f08b6c" stroke-width="1.2"/>
<line x1="565.2" y1="383.9" x2="565.2" y2="479.5" stroke="#141414" stroke-width="1.6"/>
<line x1="564.5" y1="478.8" x2="627.8" y2="478.8" stroke="#141414" stroke-width="1.6"/>
<line x1="561.4" y1="384.6" x2="565.2" y2="384.6" stroke="#141414" stroke-width="1.3"/>
<text x="558.4" y="387.19" font-size="7.2" text-anchor="end">2.0</text>
<line x1="561.4" y1="408.15" x2="565.2" y2="408.15" stroke="#141414" stroke-width="1.3"/>
<text x="558.4" y="410.74" font-size="7.2" text-anchor="end">1.5</text>
<line x1="561.4" y1="431.7" x2="565.2" y2="431.7" stroke="#141414" stroke-width="1.3"/>
<text x="558.4" y="434.29" font-size="7.2" text-anchor="end">1.0</text>
<line x1="561.4" y1="455.25" x2="565.2" y2="455.25" stroke="#141414" stroke-width="1.3"/>
<text x="558.4" y="457.84" font-size="7.2" text-anchor="end">0.5</text>
<line x1="561.4" y1="478.8" x2="565.2" y2="478.8" stroke="#141414" stroke-width="1.3"/>
<text x="558.4" y="481.39" font-size="7.2" text-anchor="end">0</text>
<line x1="577.5" y1="478.8" x2="577.5" y2="482.6" stroke="#141414" stroke-width="1.3"/>
<line x1="596.4" y1="478.8" x2="596.4" y2="482.6" stroke="#141414" stroke-width="1.3"/>
<line x1="614.9" y1="478.8" x2="614.9" y2="482.6" stroke="#141414" stroke-width="1.3"/>
<text transform="translate(525.8 436.5) rotate(-90)" x="0" y="3.42" font-size="9.5" text-anchor="middle">Number of medium</text>
<text transform="translate(536.8 438.2) rotate(-90)" x="0" y="3.42" font-size="9.5" text-anchor="middle">(-)RNA (10<tspan font-size="6.8" dy="-3.4">-3</tspan><tspan dy="3.4"> ) / well</tspan></text>
<text x="584.5" y="495.19" font-size="8.3" text-anchor="middle">0</text>
<text x="599.7" y="495.19" font-size="8.3" text-anchor="middle">0.5</text>
<text x="614.7" y="495.19" font-size="8.3" text-anchor="middle">2</text>
<line x1="582.8" y1="497.6" x2="619" y2="497.6" stroke="#141414" stroke-width="1.3"/>
<text x="600.3" y="506.41" font-size="8.1" text-anchor="middle">6 hpi</text>
<text x="629.5" y="493.12" font-size="8.1">μM G12(S)</text>
<line x1="577.7" y1="396.1" x2="577.7" y2="410.9" stroke="#1a2a5a" stroke-width="1.3"/>
<line x1="577.7" y1="449.3" x2="577.7" y2="451.8" stroke="#1a2a5a" stroke-width="1.3"/>
<rect x="571.7" y="410.9" width="12" height="38.4" fill="#7686c6" stroke="#1a2a5a" stroke-width="1.3"/>
<line x1="571.7" y1="440.4" x2="583.7" y2="440.4" stroke="#1a2a5a" stroke-width="1.3"/>
<circle cx="577.7" cy="415.5" r="1.9" fill="#2461b1"/>
<circle cx="575" cy="441.7" r="1.9" fill="#2461b1"/>
<circle cx="580.5" cy="439" r="1.9" fill="#2461b1"/>
<circle cx="575" cy="452" r="1.9" fill="#2461b1"/>
<circle cx="580" cy="449.5" r="1.9" fill="#2461b1"/>
<path d="M577.7 393.8 L580 396.1 L577.7 398.4 L575.4 396.1 Z" stroke="none" stroke-width="1" fill="#2461b1"/>
<circle cx="592" cy="473.5" r="1.9" fill="#b39b6c"/>
<circle cx="595" cy="472.5" r="1.9" fill="#b39b6c"/>
<circle cx="598.5" cy="473" r="1.9" fill="#b39b6c"/>
<circle cx="601.5" cy="473.8" r="1.9" fill="#b39b6c"/>
<circle cx="597" cy="469.5" r="1.9" fill="#b39b6c"/>
<circle cx="600" cy="467.5" r="1.9" fill="#b39b6c"/>
<circle cx="593.5" cy="471" r="1.9" fill="#b39b6c"/>
<line x1="592" y1="471.5" x2="602" y2="471.5" stroke="#7d6640" stroke-width="1"/>
<line x1="615.2" y1="463" x2="615.2" y2="467.6" stroke="#8c8a84" stroke-width="1"/>
<line x1="615.2" y1="474.3" x2="615.2" y2="475" stroke="#8c8a84" stroke-width="1"/>
<rect x="609.45" y="467.6" width="11.5" height="6.7" fill="#ebe6dc" stroke="#8c8a84" stroke-width="1"/>
<line x1="609.45" y1="471" x2="620.95" y2="471" stroke="#8c8a84" stroke-width="1"/>
<circle cx="612" cy="474" r="1.9" fill="#dcd6c8"/>
<circle cx="618" cy="474" r="1.9" fill="#dcd6c8"/>
<circle cx="615" cy="464" r="1.9" fill="#dcd6c8"/>
<text x="-1.2" y="601.3" font-size="20.5" letter-spacing="0.9">g)</text>
<text x="50.9" y="594.21" font-size="9.2">H3N2(Aich)</text>
<line x1="65.1" y1="611.6" x2="95.7" y2="611.6" stroke="#f08b6c" stroke-width="1.2"/>
<text x="98.8" y="616.95" font-size="8.2"><tspan font-style="italic">P</tspan>=0.0002</text>
<line x1="47.8" y1="616.1" x2="47.8" y2="711" stroke="#141414" stroke-width="1.6"/>
<line x1="47.1" y1="710.3" x2="110.5" y2="710.3" stroke="#141414" stroke-width="1.6"/>
<line x1="44" y1="616.8" x2="47.8" y2="616.8" stroke="#141414" stroke-width="1.4"/>
<text x="37.3" y="619.6" font-size="6.4" text-anchor="end">10</text>
<text x="37.3" y="616.28" font-size="5">6</text>
<line x1="44" y1="647.97" x2="47.8" y2="647.97" stroke="#141414" stroke-width="1.4"/>
<text x="37.3" y="650.77" font-size="6.4" text-anchor="end">10</text>
<text x="37.3" y="647.44" font-size="5">5</text>
<line x1="44" y1="679.13" x2="47.8" y2="679.13" stroke="#141414" stroke-width="1.4"/>
<text x="37.3" y="681.94" font-size="6.4" text-anchor="end">10</text>
<text x="37.3" y="678.61" font-size="5">4</text>
<line x1="44" y1="710.3" x2="47.8" y2="710.3" stroke="#141414" stroke-width="1.4"/>
<text x="37.3" y="713.1" font-size="6.4" text-anchor="end">10</text>
<text x="37.3" y="709.78" font-size="5">3</text>
<line x1="65.1" y1="710.3" x2="65.1" y2="714.5" stroke="#141414" stroke-width="1.4"/>
<line x1="91.8" y1="710.3" x2="91.8" y2="714.5" stroke="#141414" stroke-width="1.4"/>
<text transform="translate(20.9 665.6) rotate(-90)" x="0" y="3.38" font-size="9.4" text-anchor="middle">pfu / mL</text>
<line x1="65.1" y1="617.5" x2="65.1" y2="621.5" stroke="#151515" stroke-width="1.2"/>
<line x1="61.35" y1="617.5" x2="68.85" y2="617.5" stroke="#151515" stroke-width="1.2"/>
<line x1="61.35" y1="621.5" x2="68.85" y2="621.5" stroke="#151515" stroke-width="1.2"/>
<line x1="56.6" y1="620.1" x2="73.6" y2="620.1" stroke="#151515" stroke-width="1.9"/>
<circle cx="62" cy="617.6" r="1.9" fill="#151515"/>
<circle cx="62" cy="621.4" r="1.9" fill="#151515"/>
<circle cx="68" cy="620.2" r="1.9" fill="#151515"/>
<line x1="92" y1="679.8" x2="92" y2="689" stroke="#151515" stroke-width="1.2"/>
<line x1="88.25" y1="679.8" x2="95.75" y2="679.8" stroke="#151515" stroke-width="1.2"/>
<line x1="88.25" y1="689" x2="95.75" y2="689" stroke="#151515" stroke-width="1.2"/>
<line x1="83.5" y1="681.7" x2="100.5" y2="681.7" stroke="#151515" stroke-width="1.9"/>
<circle cx="88.8" cy="679.9" r="1.9" fill="#151515"/>
<circle cx="94.9" cy="681.2" r="1.9" fill="#151515"/>
<circle cx="92.3" cy="689" r="1.9" fill="#151515"/>
<text x="65.1" y="723.69" font-size="8.3" text-anchor="middle">0</text>
<text x="91.8" y="723.69" font-size="8.3" text-anchor="middle">2</text>
<line x1="47.8" y1="725.9" x2="110.1" y2="725.9" stroke="#3a2e2e" stroke-width="1.5"/>
<text x="77.6" y="736.42" font-size="8.1" text-anchor="middle">μM G12(S)</text>
<text x="77" y="749.12" font-size="8.1" text-anchor="middle">24 hpi</text>
<text x="152.6" y="601.3" font-size="20.5" letter-spacing="0.9">h)</text>
<text x="211" y="591.21" font-size="9.2">H1N1</text>
<line x1="222.3" y1="601" x2="265" y2="601" stroke="#f08b6c" stroke-width="1.2"/>
<text x="269.5" y="603.15" font-size="8.2"><tspan font-style="italic">P</tspan>=0.0034</text>
<line x1="221.5" y1="612" x2="244.6" y2="612" stroke="#f08b6c" stroke-width="1.2"/>
<text x="248.5" y="617.15" font-size="8.2"><tspan font-style="italic">P</tspan>=0.0039</text>
<line x1="210.4" y1="616.1" x2="210.4" y2="710.7" stroke="#141414" stroke-width="1.6"/>
<line x1="209.7" y1="710" x2="273" y2="710" stroke="#141414" stroke-width="1.6"/>
<line x1="206.6" y1="616.8" x2="210.4" y2="616.8" stroke="#141414" stroke-width="1.4"/>
<text x="199.9" y="619.6" font-size="6.4" text-anchor="end">10</text>
<text x="199.9" y="616.28" font-size="5">7</text>
<line x1="206.6" y1="647.87" x2="210.4" y2="647.87" stroke="#141414" stroke-width="1.4"/>
<text x="199.9" y="650.67" font-size="6.4" text-anchor="end">10</text>
<text x="199.9" y="647.34" font-size="5">6</text>
<line x1="206.6" y1="678.93" x2="210.4" y2="678.93" stroke="#141414" stroke-width="1.4"/>
<text x="199.9" y="681.74" font-size="6.4" text-anchor="end">10</text>
<text x="199.9" y="678.41" font-size="5">5</text>
<line x1="206.6" y1="710" x2="210.4" y2="710" stroke="#141414" stroke-width="1.4"/>
<text x="199.9" y="712.8" font-size="6.4" text-anchor="end">10</text>
<text x="199.9" y="709.48" font-size="5">4</text>
<line x1="222.3" y1="710" x2="222.3" y2="714.2" stroke="#141414" stroke-width="1.4"/>
<line x1="240.6" y1="710" x2="240.6" y2="714.2" stroke="#141414" stroke-width="1.4"/>
<line x1="259.8" y1="710" x2="259.8" y2="714.2" stroke="#141414" stroke-width="1.4"/>
<text transform="translate(180.2 663.2) rotate(-90)" x="0" y="3.49" font-size="9.7" text-anchor="middle">pfu / mL</text>
<line x1="222.3" y1="619" x2="222.3" y2="630.7" stroke="#151515" stroke-width="1.2"/>
<line x1="218.55" y1="619" x2="226.05" y2="619" stroke="#151515" stroke-width="1.2"/>
<line x1="218.55" y1="630.7" x2="226.05" y2="630.7" stroke="#151515" stroke-width="1.2"/>
<line x1="216.3" y1="620" x2="228.3" y2="620" stroke="#151515" stroke-width="1.9"/>
<circle cx="219" cy="619.5" r="1.9" fill="#151515"/>
<circle cx="225.5" cy="620.5" r="1.9" fill="#151515"/>
<circle cx="222.3" cy="630.7" r="1.9" fill="#151515"/>
<line x1="240.6" y1="662.8" x2="240.6" y2="673" stroke="#151515" stroke-width="1.2"/>
<line x1="236.85" y1="662.8" x2="244.35" y2="662.8" stroke="#151515" stroke-width="1.2"/>
<line x1="236.85" y1="673" x2="244.35" y2="673" stroke="#151515" stroke-width="1.2"/>
<line x1="234.6" y1="672" x2="246.6" y2="672" stroke="#151515" stroke-width="1.9"/>
<circle cx="240.6" cy="662.8" r="1.9" fill="#151515"/>
<circle cx="237.5" cy="673" r="1.9" fill="#151515"/>
<circle cx="243.8" cy="672" r="1.9" fill="#151515"/>
<line x1="253.3" y1="691.7" x2="266.3" y2="691.7" stroke="#151515" stroke-width="1.9"/>
<circle cx="256.5" cy="691.7" r="1.9" fill="#151515"/>
<circle cx="260" cy="691.5" r="1.9" fill="#151515"/>
<circle cx="263" cy="691.8" r="1.9" fill="#151515"/>
<text x="222.3" y="724.09" font-size="8.3" text-anchor="middle">0</text>
<text x="240.6" y="724.09" font-size="8.3" text-anchor="middle">1</text>
<text x="259.8" y="724.09" font-size="8.3" text-anchor="middle">2</text>
<line x1="209.9" y1="726.6" x2="273" y2="726.6" stroke="#3a2e2e" stroke-width="1.5"/>
<text x="243.3" y="737.12" font-size="8.1" text-anchor="middle">μM G12(S)</text>
<text x="242.7" y="748.92" font-size="8.1" text-anchor="middle">24 hpi</text>
<text x="339.4" y="595.11" font-size="9.2">H3N2</text>
<line x1="352.5" y1="605" x2="397.7" y2="605" stroke="#f08b6c" stroke-width="1.2"/>
<text x="403" y="606.55" font-size="8.2"><tspan font-style="italic">P</tspan>=0.0043</text>
<line x1="351.2" y1="614.7" x2="374.9" y2="614.7" stroke="#f08b6c" stroke-width="1.2"/>
<text x="380.1" y="620.55" font-size="8.2"><tspan font-style="italic">P</tspan>=0.0045</text>
<line x1="340.7" y1="616.6" x2="340.7" y2="711.3" stroke="#141414" stroke-width="1.6"/>
<line x1="340" y1="710.6" x2="403" y2="710.6" stroke="#141414" stroke-width="1.6"/>
<line x1="336.9" y1="617.3" x2="340.7" y2="617.3" stroke="#141414" stroke-width="1.4"/>
<text x="330.2" y="620.1" font-size="6.4" text-anchor="end">10</text>
<text x="330.2" y="616.78" font-size="5">7</text>
<line x1="336.9" y1="640.62" x2="340.7" y2="640.62" stroke="#141414" stroke-width="1.4"/>
<text x="330.2" y="643.43" font-size="6.4" text-anchor="end">10</text>
<text x="330.2" y="640.1" font-size="5">6</text>
<line x1="336.9" y1="663.95" x2="340.7" y2="663.95" stroke="#141414" stroke-width="1.4"/>
<text x="330.2" y="666.75" font-size="6.4" text-anchor="end">10</text>
<text x="330.2" y="663.43" font-size="5">5</text>
<line x1="336.9" y1="687.27" x2="340.7" y2="687.27" stroke="#141414" stroke-width="1.4"/>
<text x="330.2" y="690.08" font-size="6.4" text-anchor="end">10</text>
<text x="330.2" y="686.75" font-size="5">4</text>
<line x1="336.9" y1="710.6" x2="340.7" y2="710.6" stroke="#141414" stroke-width="1.4"/>
<text x="330.2" y="713.4" font-size="6.4" text-anchor="end">10</text>
<text x="330.2" y="710.08" font-size="5">3</text>
<line x1="352.5" y1="710.6" x2="352.5" y2="714.8" stroke="#141414" stroke-width="1.4"/>
<line x1="371" y1="710.6" x2="371" y2="714.8" stroke="#141414" stroke-width="1.4"/>
<line x1="390.6" y1="710.6" x2="390.6" y2="714.8" stroke="#141414" stroke-width="1.4"/>
<text transform="translate(315.5 666.8) rotate(-90)" x="0" y="3.49" font-size="9.7" text-anchor="middle">pfu / mL</text>
<line x1="352.5" y1="621.5" x2="352.5" y2="631.2" stroke="#151515" stroke-width="1.2"/>
<line x1="348.75" y1="621.5" x2="356.25" y2="621.5" stroke="#151515" stroke-width="1.2"/>
<line x1="348.75" y1="631.2" x2="356.25" y2="631.2" stroke="#151515" stroke-width="1.2"/>
<line x1="346.5" y1="626" x2="358.5" y2="626" stroke="#151515" stroke-width="1.9"/>
<circle cx="352.5" cy="621.6" r="1.9" fill="#151515"/>
<circle cx="352.5" cy="631.1" r="1.9" fill="#151515"/>
<circle cx="352.5" cy="626" r="1.9" fill="#151515"/>
<line x1="371" y1="667" x2="371" y2="671.5" stroke="#151515" stroke-width="1.2"/>
<line x1="367.25" y1="667" x2="374.75" y2="667" stroke="#151515" stroke-width="1.2"/>
<line x1="367.25" y1="671.5" x2="374.75" y2="671.5" stroke="#151515" stroke-width="1.2"/>
<line x1="365" y1="669.3" x2="377" y2="669.3" stroke="#151515" stroke-width="1.9"/>
<circle cx="368" cy="670.5" r="1.9" fill="#151515"/>
<circle cx="371" cy="667.5" r="1.9" fill="#151515"/>
<circle cx="374" cy="669.5" r="1.9" fill="#151515"/>
<circle cx="370" cy="671.5" r="1.9" fill="#151515"/>
<line x1="390.6" y1="681" x2="390.6" y2="689.8" stroke="#151515" stroke-width="1.2"/>
<line x1="386.85" y1="681" x2="394.35" y2="681" stroke="#151515" stroke-width="1.2"/>
<line x1="386.85" y1="689.8" x2="394.35" y2="689.8" stroke="#151515" stroke-width="1.2"/>
<line x1="384.6" y1="685.6" x2="396.6" y2="685.6" stroke="#151515" stroke-width="1.9"/>
<circle cx="390.6" cy="681.2" r="1.9" fill="#151515"/>
<circle cx="390.6" cy="689.6" r="1.9" fill="#151515"/>
<text x="352.5" y="724.89" font-size="8.3" text-anchor="middle">0</text>
<text x="371" y="724.89" font-size="8.3" text-anchor="middle">1</text>
<text x="390.6" y="724.89" font-size="8.3" text-anchor="middle">2</text>
<line x1="340" y1="727.1" x2="402.5" y2="727.1" stroke="#3a2e2e" stroke-width="1.5"/>
<text x="373" y="737.92" font-size="8.1" text-anchor="middle">μM G12(S)</text>
<text x="372.4" y="749.72" font-size="8.1" text-anchor="middle">24 hpi</text>
<text x="448.4" y="570.7" font-size="20.5" letter-spacing="0.9">i)</text>
<line x1="498.2" y1="578.6" x2="498.2" y2="673.5" stroke="#141414" stroke-width="1.6"/>
<line x1="497.5" y1="672.8" x2="638.8" y2="672.8" stroke="#141414" stroke-width="1.6"/>
<line x1="494.6" y1="579.3" x2="498.2" y2="579.3" stroke="#141414" stroke-width="1.3"/>
<text x="490" y="581.28" font-size="6.6" text-anchor="end">1.5</text>
<line x1="494.6" y1="610.47" x2="498.2" y2="610.47" stroke="#141414" stroke-width="1.3"/>
<text x="490" y="612.44" font-size="6.6" text-anchor="end">1.0</text>
<line x1="494.6" y1="641.63" x2="498.2" y2="641.63" stroke="#141414" stroke-width="1.3"/>
<text x="490" y="643.61" font-size="6.6" text-anchor="end">0.5</text>
<line x1="494.6" y1="672.8" x2="498.2" y2="672.8" stroke="#141414" stroke-width="1.3"/>
<text x="490" y="674.78" font-size="6.6" text-anchor="end">0</text>
<line x1="497.8" y1="672.8" x2="497.8" y2="676.6" stroke="#141414" stroke-width="1.3"/>
<text x="492.5" y="689.9" font-size="10">10</text>
<text x="503.2" y="685.1" font-size="6.8">-5</text>
<line x1="533.1" y1="672.8" x2="533.1" y2="676.6" stroke="#141414" stroke-width="1.3"/>
<text x="527.8" y="689.9" font-size="10">10</text>
<text x="538.5" y="685.1" font-size="6.8">-4</text>
<line x1="568.5" y1="672.8" x2="568.5" y2="676.6" stroke="#141414" stroke-width="1.3"/>
<text x="563.2" y="689.9" font-size="10">10</text>
<text x="573.9" y="685.1" font-size="6.8">-3</text>
<line x1="603.8" y1="672.8" x2="603.8" y2="676.6" stroke="#141414" stroke-width="1.3"/>
<text x="598.5" y="689.9" font-size="10">10</text>
<text x="609.2" y="685.1" font-size="6.8">-2</text>
<line x1="638.5" y1="672.8" x2="638.5" y2="676.6" stroke="#141414" stroke-width="1.3"/>
<text x="633.2" y="689.9" font-size="10">10</text>
<text x="643.9" y="685.1" font-size="6.8">-1</text>
<text x="561.7" y="708.71" font-size="10.3" text-anchor="middle">Concentration (M)</text>
<text transform="translate(456.6 628.5) rotate(-90)" x="0" y="3.42" font-size="9.5" text-anchor="middle">Relative cell number</text>
<text transform="translate(467.9 628.5) rotate(-90)" x="0" y="3.42" font-size="9.5" text-anchor="middle">(CPE)</text>
<path d="M506.62 665.22 L507.96 665.21 L509.3 665.19 L510.64 665.18 L511.98 665.17 L513.31 665.15 L514.65 665.13 L515.99 665.11 L517.33 665.09 L518.67 665.07 L520.01 665.04 L521.34 665.01 L522.68 664.97 L524.02 664.94 L525.36 664.9 L526.7 664.85 L528.03 664.8 L529.37 664.74 L530.71 664.68 L532.05 664.61 L533.39 664.54 L534.73 664.45 L536.06 664.36 L537.4 664.25 L538.74 664.14 L540.08 664.01 L541.42 663.87 L542.76 663.72 L544.09 663.55 L545.43 663.36 L546.77 663.15 L548.11 662.93 L549.45 662.68 L550.78 662.4 L552.12 662.1 L553.46 661.77 L554.8 661.41 L556.14 661.01 L557.48 660.59 L558.81 660.12 L560.15 659.61 L561.49 659.06 L562.83 658.47 L564.17 657.83 L565.5 657.15 L566.84 656.41 L568.18 655.63 L569.52 654.79 L570.86 653.91 L572.2 652.98 L573.53 652 L574.87 650.97 L576.21 649.9 L577.55 648.79 L578.89 647.65 L580.22 646.48 L581.56 645.28 L582.9 644.07 L584.24 642.84 L585.58 641.61 L586.92 640.38 L588.25 639.16 L589.59 637.95 L590.93 636.76 L592.27 635.61 L593.61 634.48 L594.94 633.39 L596.28 632.34 L597.62 631.34 L598.96 630.38 L600.3 629.47 L601.64 628.61 L602.97 627.8 L604.31 627.04 L605.65 626.33 L606.99 625.67 L608.33 625.06 L609.66 624.49 L611 623.96 L612.34 623.47 L613.68 623.02" stroke="#d9d3c5" stroke-width="1.3" fill="none"/>
<line x1="508.17" y1="664.06" x2="508.17" y2="665.31" stroke="#bcb6a8" stroke-width="1"/>
<path d="M508.17 662.49 L510.37 666.29 L505.97 666.29 Z" stroke="none" stroke-width="1" fill="#d9d3c5"/>
<line x1="529.16" y1="663.44" x2="529.16" y2="664.69" stroke="#bcb6a8" stroke-width="1"/>
<path d="M529.16 661.86 L531.36 665.66 L526.96 665.66 Z" stroke="none" stroke-width="1" fill="#d9d3c5"/>
<line x1="550.22" y1="659.7" x2="550.22" y2="662.19" stroke="#bcb6a8" stroke-width="1"/>
<path d="M550.22 658.74 L552.42 662.54 L548.02 662.54 Z" stroke="none" stroke-width="1" fill="#d9d3c5"/>
<line x1="571.21" y1="650.34" x2="571.21" y2="655.33" stroke="#bcb6a8" stroke-width="1"/>
<path d="M571.21 650.63 L573.41 654.43 L569.01 654.43 Z" stroke="none" stroke-width="1" fill="#d9d3c5"/>
<line x1="592.65" y1="629.74" x2="592.65" y2="640.98" stroke="#bcb6a8" stroke-width="1"/>
<path d="M592.65 633.16 L594.85 636.96 L590.45 636.96 Z" stroke="none" stroke-width="1" fill="#d9d3c5"/>
<line x1="613.68" y1="619.76" x2="613.68" y2="626" stroke="#bcb6a8" stroke-width="1"/>
<path d="M613.68 620.68 L615.88 624.48 L611.48 624.48 Z" stroke="none" stroke-width="1" fill="#d9d3c5"/>
<path d="M506.62 665.23 L507.96 665.22 L509.3 665.21 L510.64 665.19 L511.98 665.18 L513.31 665.16 L514.65 665.15 L515.99 665.13 L517.33 665.11 L518.67 665.08 L520.01 665.05 L521.34 665.02 L522.68 664.99 L524.02 664.95 L525.36 664.9 L526.7 664.85 L528.03 664.8 L529.37 664.74 L530.71 664.67 L532.05 664.59 L533.39 664.51 L534.73 664.41 L536.06 664.31 L537.4 664.19 L538.74 664.06 L540.08 663.91 L541.42 663.75 L542.76 663.56 L544.09 663.36 L545.43 663.14 L546.77 662.89 L548.11 662.61 L549.45 662.3 L550.78 661.97 L552.12 661.6 L553.46 661.19 L554.8 660.74 L556.14 660.25 L557.48 659.71 L558.81 659.12 L560.15 658.48 L561.49 657.79 L562.83 657.04 L564.17 656.24 L565.5 655.38 L566.84 654.46 L568.18 653.49 L569.52 652.46 L570.86 651.37 L572.2 650.24 L573.53 649.05 L574.87 647.83 L576.21 646.58 L577.55 645.29 L578.89 643.99 L580.22 642.68 L581.56 641.36 L582.9 640.05 L584.24 638.75 L585.58 637.48 L586.92 636.23 L588.25 635.02 L589.59 633.85 L590.93 632.73 L592.27 631.67 L593.61 630.65 L594.94 629.69 L596.28 628.79 L597.62 627.95 L598.96 627.16 L600.3 626.44 L601.64 625.76 L602.97 625.14 L604.31 624.57 L605.65 624.04 L606.99 623.57 L608.33 623.13 L609.66 622.73 L611 622.37 L612.34 622.04 L613.68 621.75" stroke="#b39b6c" stroke-width="1.5" fill="none"/>
<line x1="508.17" y1="663.81" x2="508.17" y2="666.31" stroke="#5d4c30" stroke-width="1.1"/>
<line x1="506.67" y1="663.81" x2="509.67" y2="663.81" stroke="#5d4c30" stroke-width="1.1"/>
<line x1="506.67" y1="666.31" x2="509.67" y2="666.31" stroke="#5d4c30" stroke-width="1.1"/>
<rect x="506.07" y="662.96" width="4.2" height="4.2" fill="#b39b6c"/>
<line x1="529.16" y1="663.81" x2="529.16" y2="666.31" stroke="#5d4c30" stroke-width="1.1"/>
<line x1="527.66" y1="663.81" x2="530.66" y2="663.81" stroke="#5d4c30" stroke-width="1.1"/>
<line x1="527.66" y1="666.31" x2="530.66" y2="666.31" stroke="#5d4c30" stroke-width="1.1"/>
<rect x="527.06" y="662.96" width="4.2" height="4.2" fill="#b39b6c"/>
<line x1="550.22" y1="660.32" x2="550.22" y2="664.06" stroke="#5d4c30" stroke-width="1.1"/>
<line x1="548.72" y1="660.32" x2="551.72" y2="660.32" stroke="#5d4c30" stroke-width="1.1"/>
<line x1="548.72" y1="664.06" x2="551.72" y2="664.06" stroke="#5d4c30" stroke-width="1.1"/>
<rect x="548.12" y="660.09" width="4.2" height="4.2" fill="#b39b6c"/>
<line x1="571.21" y1="648.46" x2="571.21" y2="653.46" stroke="#5d4c30" stroke-width="1.1"/>
<line x1="569.71" y1="648.46" x2="572.71" y2="648.46" stroke="#5d4c30" stroke-width="1.1"/>
<line x1="569.71" y1="653.46" x2="572.71" y2="653.46" stroke="#5d4c30" stroke-width="1.1"/>
<rect x="569.11" y="648.86" width="4.2" height="4.2" fill="#b39b6c"/>
<line x1="592.65" y1="625.38" x2="592.65" y2="635.36" stroke="#5d4c30" stroke-width="1.1"/>
<line x1="591.15" y1="625.38" x2="594.15" y2="625.38" stroke="#5d4c30" stroke-width="1.1"/>
<line x1="591.15" y1="635.36" x2="594.15" y2="635.36" stroke="#5d4c30" stroke-width="1.1"/>
<rect x="590.55" y="628.27" width="4.2" height="4.2" fill="#b39b6c"/>
<line x1="613.68" y1="618.26" x2="613.68" y2="625.75" stroke="#5d4c30" stroke-width="1.1"/>
<line x1="612.18" y1="618.26" x2="615.18" y2="618.26" stroke="#5d4c30" stroke-width="1.1"/>
<line x1="612.18" y1="625.75" x2="615.18" y2="625.75" stroke="#5d4c30" stroke-width="1.1"/>
<rect x="611.58" y="619.91" width="4.2" height="4.2" fill="#b39b6c"/>
<path d="M506.62 666.1 L507.96 665.84 L509.3 665.57 L510.64 665.27 L511.98 664.94 L513.31 664.6 L514.65 664.22 L515.99 663.82 L517.33 663.39 L518.67 662.92 L520.01 662.43 L521.34 661.89 L522.68 661.33 L524.02 660.72 L525.36 660.08 L526.7 659.39 L528.03 658.67 L529.37 657.9 L530.71 657.1 L532.05 656.25 L533.39 655.35 L534.73 654.42 L536.06 653.45 L537.4 652.43 L538.74 651.38 L540.08 650.3 L541.42 649.18 L542.76 648.03 L544.09 646.86 L545.43 645.66 L546.77 644.44 L548.11 643.21 L549.45 641.97 L550.78 640.73 L552.12 639.48 L553.46 638.24 L554.8 637.01 L556.14 635.79 L557.48 634.59 L558.81 633.41 L560.15 632.26 L561.49 631.14 L562.83 630.05 L564.17 629 L565.5 627.98 L566.84 627 L568.18 626.06 L569.52 625.17 L570.86 624.31 L572.2 623.5 L573.53 622.73 L574.87 622 L576.21 621.32 L577.55 620.67 L578.89 620.06 L580.22 619.49 L581.56 618.95 L582.9 618.45 L584.24 617.99 L585.58 617.55 L586.92 617.14 L588.25 616.77 L589.59 616.42 L590.93 616.09 L592.27 615.79 L593.61 615.51 L594.94 615.25 L596.28 615.02 L597.62 614.8 L598.96 614.59 L600.3 614.4 L601.64 614.23 L602.97 614.07 L604.31 613.92 L605.65 613.79 L606.99 613.67 L608.33 613.55 L609.66 613.45 L611 613.35 L612.34 613.26 L613.68 613.18" stroke="#2462b0" stroke-width="1.5" fill="none"/>
<line x1="508.17" y1="665.62" x2="508.17" y2="666.87" stroke="#14285a" stroke-width="1.1"/>
<line x1="506.67" y1="665.62" x2="509.67" y2="665.62" stroke="#14285a" stroke-width="1.1"/>
<line x1="506.67" y1="666.87" x2="509.67" y2="666.87" stroke="#14285a" stroke-width="1.1"/>
<circle cx="508.17" cy="666.25" r="2.2" fill="#2462b0"/>
<line x1="529.16" y1="660.01" x2="529.16" y2="661.88" stroke="#14285a" stroke-width="1.1"/>
<line x1="527.66" y1="660.01" x2="530.66" y2="660.01" stroke="#14285a" stroke-width="1.1"/>
<line x1="527.66" y1="661.88" x2="530.66" y2="661.88" stroke="#14285a" stroke-width="1.1"/>
<circle cx="529.16" cy="660.94" r="2.2" fill="#2462b0"/>
<line x1="550.22" y1="638.48" x2="550.22" y2="640.98" stroke="#14285a" stroke-width="1.1"/>
<line x1="548.72" y1="638.48" x2="551.72" y2="638.48" stroke="#14285a" stroke-width="1.1"/>
<line x1="548.72" y1="640.98" x2="551.72" y2="640.98" stroke="#14285a" stroke-width="1.1"/>
<circle cx="550.22" cy="639.73" r="2.2" fill="#2462b0"/>
<line x1="571.21" y1="621.2" x2="571.21" y2="628.68" stroke="#14285a" stroke-width="1.1"/>
<line x1="569.71" y1="621.2" x2="572.71" y2="621.2" stroke="#14285a" stroke-width="1.1"/>
<line x1="569.71" y1="628.68" x2="572.71" y2="628.68" stroke="#14285a" stroke-width="1.1"/>
<circle cx="571.21" cy="624.94" r="2.2" fill="#2462b0"/>
<line x1="592.65" y1="617.39" x2="592.65" y2="622.38" stroke="#14285a" stroke-width="1.1"/>
<line x1="591.15" y1="617.39" x2="594.15" y2="617.39" stroke="#14285a" stroke-width="1.1"/>
<line x1="591.15" y1="622.38" x2="594.15" y2="622.38" stroke="#14285a" stroke-width="1.1"/>
<circle cx="592.65" cy="619.88" r="2.2" fill="#2462b0"/>
<line x1="613.68" y1="607.59" x2="613.68" y2="613.21" stroke="#14285a" stroke-width="1.1"/>
<line x1="612.18" y1="607.59" x2="615.18" y2="607.59" stroke="#14285a" stroke-width="1.1"/>
<line x1="612.18" y1="613.21" x2="615.18" y2="613.21" stroke="#14285a" stroke-width="1.1"/>
<circle cx="613.68" cy="610.4" r="2.2" fill="#2462b0"/>
<line x1="645.3" y1="583.9" x2="655.6" y2="583.9" stroke="#2462b0" stroke-width="1.5"/>
<circle cx="650.5" cy="583.9" r="1.9" fill="#2462b0"/>
<text x="659.8" y="586.56" font-size="7.4">G12S</text>
<line x1="645.3" y1="595.4" x2="655.6" y2="595.4" stroke="#b39b6c" stroke-width="1.5"/>
<rect x="648.6" y="593.5" width="3.8" height="3.8" fill="#b39b6c"/>
<text x="659.8" y="598.06" font-size="7.4">Inavir</text>
<line x1="645.3" y1="607" x2="655.6" y2="607" stroke="#d9d3c5" stroke-width="1.5"/>
<path d="M650.5 605 L652.6 608.6 L648.4 608.6 Z" stroke="none" stroke-width="1" fill="#d9d3c5"/>
<text x="660" y="609.66" font-size="7.4">Tamiflu</text>
<text x="448.4" y="728.4" font-size="20.5" letter-spacing="0.9">j)</text>
<line x1="496.8" y1="736.8" x2="496.8" y2="831.8" stroke="#141414" stroke-width="1.6"/>
<line x1="496.1" y1="831.1" x2="638.6" y2="831.1" stroke="#141414" stroke-width="1.6"/>
<line x1="493.2" y1="737.5" x2="496.8" y2="737.5" stroke="#141414" stroke-width="1.3"/>
<text x="485.3" y="740.3" font-size="6.3" text-anchor="end">10</text>
<text x="485.6" y="737" font-size="5">8</text>
<line x1="493.2" y1="753.1" x2="496.8" y2="753.1" stroke="#141414" stroke-width="1.3"/>
<text x="485.3" y="755.9" font-size="6.3" text-anchor="end">10</text>
<text x="485.6" y="752.6" font-size="5">7</text>
<line x1="493.2" y1="768.7" x2="496.8" y2="768.7" stroke="#141414" stroke-width="1.3"/>
<text x="485.3" y="771.5" font-size="6.3" text-anchor="end">10</text>
<text x="485.6" y="768.2" font-size="5">6</text>
<line x1="493.2" y1="784.3" x2="496.8" y2="784.3" stroke="#141414" stroke-width="1.3"/>
<text x="485.3" y="787.1" font-size="6.3" text-anchor="end">10</text>
<text x="485.6" y="783.8" font-size="5">5</text>
<line x1="493.2" y1="799.9" x2="496.8" y2="799.9" stroke="#141414" stroke-width="1.3"/>
<text x="485.3" y="802.7" font-size="6.3" text-anchor="end">10</text>
<text x="485.6" y="799.4" font-size="5">4</text>
<line x1="493.2" y1="815.5" x2="496.8" y2="815.5" stroke="#141414" stroke-width="1.3"/>
<text x="485.3" y="818.3" font-size="6.3" text-anchor="end">10</text>
<text x="485.6" y="815" font-size="5">3</text>
<line x1="493.2" y1="831.1" x2="496.8" y2="831.1" stroke="#141414" stroke-width="1.3"/>
<text x="485.3" y="833.9" font-size="6.3" text-anchor="end">10</text>
<text x="485.6" y="830.6" font-size="5">2</text>
<line x1="496.8" y1="831.1" x2="496.8" y2="834.9" stroke="#141414" stroke-width="1.3"/>
<text x="496.8" y="845.59" font-size="8.3" text-anchor="middle">0.0</text>
<line x1="526" y1="831.1" x2="526" y2="834.9" stroke="#141414" stroke-width="1.3"/>
<text x="526" y="845.59" font-size="8.3" text-anchor="middle">0.5</text>
<line x1="554" y1="831.1" x2="554" y2="834.9" stroke="#141414" stroke-width="1.3"/>
<text x="554" y="845.59" font-size="8.3" text-anchor="middle">1.0</text>
<line x1="582" y1="831.1" x2="582" y2="834.9" stroke="#141414" stroke-width="1.3"/>
<text x="582" y="845.59" font-size="8.3" text-anchor="middle">1.5</text>
<line x1="610.1" y1="831.1" x2="610.1" y2="834.9" stroke="#141414" stroke-width="1.3"/>
<text x="610.1" y="845.59" font-size="8.3" text-anchor="middle">2.0</text>
<line x1="638.1" y1="831.1" x2="638.1" y2="834.9" stroke="#141414" stroke-width="1.3"/>
<text x="638.1" y="845.59" font-size="8.3" text-anchor="middle">2.5</text>
<text x="569.6" y="863.61" font-size="10.3" text-anchor="middle">Concentration (μM)</text>
<text transform="translate(467.8 786) rotate(-90)" x="0" y="3.49" font-size="9.7" text-anchor="middle">pfu / mL</text>
<path d="M526 767.9 L528.3 771.9 L523.7 771.9 Z" stroke="none" stroke-width="1" fill="#d9d3c5"/>
<path d="M526 775.6 L528.3 779.6 L523.7 779.6 Z" stroke="none" stroke-width="1" fill="#d9d3c5"/>
<path d="M526 777.2 L528.3 781.2 L523.7 781.2 Z" stroke="none" stroke-width="1" fill="#d9d3c5"/>
<path d="M554 772.1 L556.3 776.1 L551.7 776.1 Z" stroke="none" stroke-width="1" fill="#d9d3c5"/>
<path d="M554 780.3 L556.3 784.3 L551.7 784.3 Z" stroke="none" stroke-width="1" fill="#d9d3c5"/>
<path d="M610.1 783.1 L612.4 787.1 L607.8 787.1 Z" stroke="none" stroke-width="1" fill="#d9d3c5"/>
<path d="M610.1 785.7 L612.4 789.7 L607.8 789.7 Z" stroke="none" stroke-width="1" fill="#d9d3c5"/>
<path d="M610.1 788.9 L612.4 792.9 L607.8 792.9 Z" stroke="none" stroke-width="1" fill="#d9d3c5"/>
<rect x="523.9" y="753.8" width="4.2" height="4.2" fill="#b39b6c"/>
<rect x="523.9" y="762.9" width="4.2" height="4.2" fill="#b39b6c"/>
<rect x="551.9" y="767.6" width="4.2" height="4.2" fill="#b39b6c"/>
<rect x="551.9" y="769.5" width="4.2" height="4.2" fill="#b39b6c"/>
<rect x="608" y="771.8" width="4.2" height="4.2" fill="#b39b6c"/>
<rect x="608" y="773.4" width="4.2" height="4.2" fill="#b39b6c"/>
<rect x="608" y="777.4" width="4.2" height="4.2" fill="#b39b6c"/>
<circle cx="496.8" cy="752.7" r="2.2" fill="#2462b0"/>
<circle cx="496.8" cy="754.5" r="2.2" fill="#2462b0"/>
<circle cx="496.8" cy="756.2" r="2.2" fill="#2462b0"/>
<circle cx="526" cy="794.2" r="2.2" fill="#2462b0"/>
<circle cx="526" cy="799.1" r="2.2" fill="#2462b0"/>
<circle cx="526" cy="805" r="2.2" fill="#2462b0"/>
<circle cx="554" cy="799.4" r="2.2" fill="#2462b0"/>
<circle cx="554" cy="801.2" r="2.2" fill="#2462b0"/>
<circle cx="554" cy="808.3" r="2.2" fill="#2462b0"/>
<circle cx="610.1" cy="811" r="2.2" fill="#2462b0"/>
<circle cx="610.1" cy="815.7" r="2.2" fill="#2462b0"/>
<circle cx="646.5" cy="742.4" r="2.2" fill="#2462b0"/>
<text x="654" y="744.3" font-size="7.5">G12S</text>
<rect x="644.5" y="751.8" width="4" height="4" fill="#b39b6c"/>
<text x="654" y="755.9" font-size="7.5">Inavir</text>
<path d="M646.5 763.5 L648.7 767.3 L644.3 767.3 Z" stroke="none" stroke-width="1" fill="#d9d3c5"/>
<text x="654" y="767" font-size="7.5">Tamiflu</text>
</svg></body></html>
